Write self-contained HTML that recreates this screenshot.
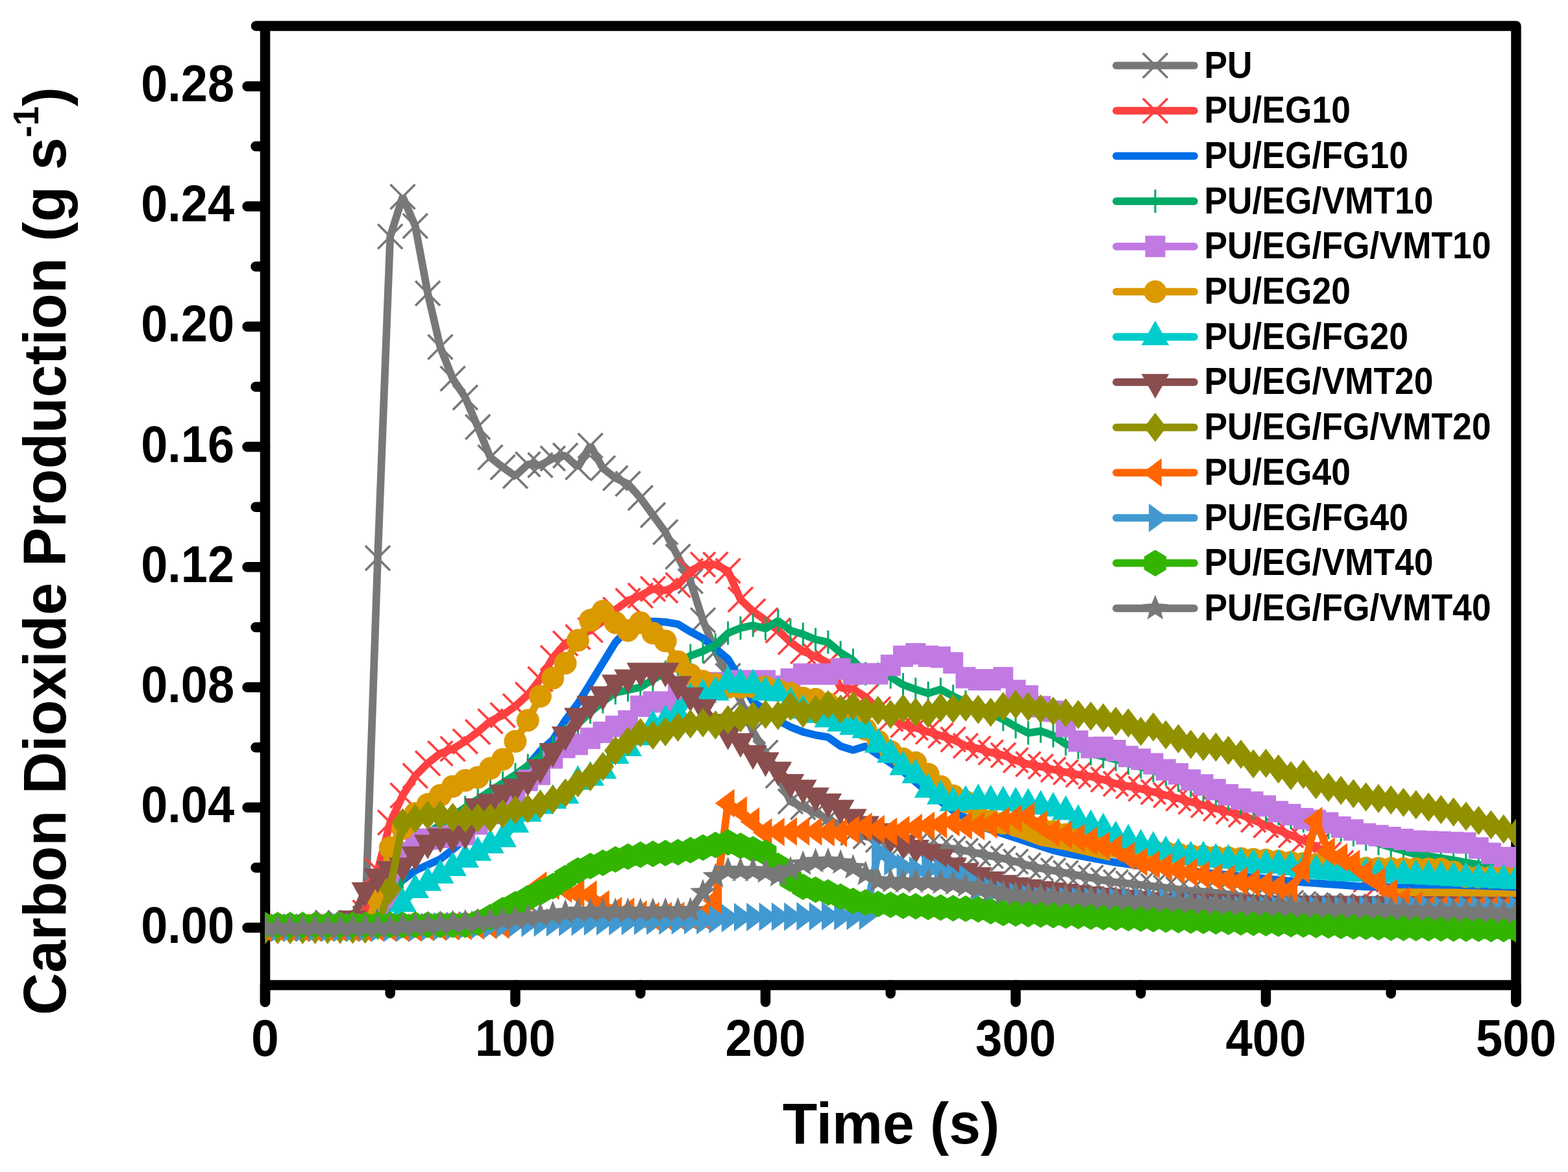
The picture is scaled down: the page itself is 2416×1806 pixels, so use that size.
<!DOCTYPE html><html><head><meta charset="utf-8"><style>html,body{margin:0;padding:0;background:#fff;}svg{display:block}text{font-family:"Liberation Sans",Arial,sans-serif;font-weight:bold;fill:#000}</style></head><body>
<svg xmlns="http://www.w3.org/2000/svg" width="2416" height="1806" viewBox="0 0 2416 1806">
<rect width="100%" height="100%" fill="#fff"/>
<path d="M394.5 40H2336V1544M408.5 40V1544M408.5 1518H2336" fill="none" stroke="#000" stroke-width="15.5" stroke-linecap="round" stroke-linejoin="round"/>
<path d="M381 1429.5H408.5 M394 1336.9H408.5 M381 1244.3H408.5 M394 1151.7H408.5 M381 1059.0H408.5 M394 966.4H408.5 M381 873.8H408.5 M394 781.2H408.5 M381 688.6H408.5 M394 596.0H408.5 M381 503.3H408.5 M394 410.7H408.5 M381 318.1H408.5 M394 225.5H408.5 M381 132.9H408.5 M408.5 1518V1544 M601.2 1518V1531 M794.0 1518V1544 M986.8 1518V1531 M1179.5 1518V1544 M1372.2 1518V1531 M1565.0 1518V1544 M1757.8 1518V1531 M1950.5 1518V1544 M2143.2 1518V1531 M2336.0 1518V1544" fill="none" stroke="#000" stroke-width="15.5" stroke-linecap="round"/>
<text transform="translate(361,1452.5) scale(0.931,1)" font-size="79.4" text-anchor="end">0.00</text>
<text transform="translate(361,1267.3) scale(0.931,1)" font-size="79.4" text-anchor="end">0.04</text>
<text transform="translate(361,1082.0) scale(0.931,1)" font-size="79.4" text-anchor="end">0.08</text>
<text transform="translate(361,896.8) scale(0.931,1)" font-size="79.4" text-anchor="end">0.12</text>
<text transform="translate(361,711.6) scale(0.931,1)" font-size="79.4" text-anchor="end">0.16</text>
<text transform="translate(361,526.3) scale(0.931,1)" font-size="79.4" text-anchor="end">0.20</text>
<text transform="translate(361,341.1) scale(0.931,1)" font-size="79.4" text-anchor="end">0.24</text>
<text transform="translate(361,155.9) scale(0.931,1)" font-size="79.4" text-anchor="end">0.28</text>
<text transform="translate(408.5,1627) scale(0.97,1)" font-size="79.4" text-anchor="middle">0</text>
<text transform="translate(794.0,1627) scale(0.935,1)" font-size="79.4" text-anchor="middle">100</text>
<text transform="translate(1179.5,1627) scale(0.935,1)" font-size="79.4" text-anchor="middle">200</text>
<text transform="translate(1565.0,1627) scale(0.935,1)" font-size="79.4" text-anchor="middle">300</text>
<text transform="translate(1950.5,1627) scale(0.935,1)" font-size="79.4" text-anchor="middle">400</text>
<text transform="translate(2336.0,1627) scale(0.935,1)" font-size="79.4" text-anchor="middle">500</text>
<text transform="translate(1373,1762.2) scale(0.989,1)" font-size="88.6" text-anchor="middle">Time (s)</text>
<text transform="translate(101,849) rotate(-90) scale(0.98,1)" font-size="92" text-anchor="middle">Carbon Dioxide Production (g s<tspan font-size="55" dy="-42">-1</tspan><tspan dy="42">)</tspan></text>
<defs><clipPath id="pc"><rect x="408.5" y="40" width="1927.5" height="1478"/></clipPath></defs>
<g clip-path="url(#pc)">
<path d="M408.5 1429.5L427.8 1429.5L447.1 1429.5L466.3 1429.5L485.6 1429.5L504.9 1422.1L524.1 1422.1L543.4 1422.1L562.7 1415.6L582.0 859.9L601.2 364.4L620.5 303.3L639.8 348.2L659.1 451.9L678.4 534.8L697.6 583.5L716.9 612.6L736.2 658.0L755.5 704.8L774.7 720.1L794.0 733.5L813.3 715.4L832.5 716.8L851.8 706.6L871.1 702.0L890.4 720.1L909.6 686.7L928.9 721.5L948.2 736.7L967.5 745.5L986.8 767.3L1006.0 793.7L1025.3 820.1L1044.6 857.8L1063.8 895.6L1083.1 955.8L1102.4 1003.5L1121.7 1041.4L1141.0 1079.4L1160.2 1127.1L1179.5 1159.8L1198.8 1195.3L1218.0 1235.0L1237.3 1243.7L1256.6 1252.4L1275.9 1262.2L1295.2 1272.7L1314.4 1283.2L1333.7 1288.7L1353.0 1294.3L1372.2 1296.9L1391.5 1299.5L1410.8 1302.2L1430.1 1304.1L1449.3 1306.0L1468.6 1307.9L1487.9 1311.0L1507.2 1315.0L1526.5 1319.0L1545.7 1322.9L1565.0 1327.7L1584.3 1333.6L1603.5 1338.1L1622.8 1341.6L1642.1 1345.2L1661.4 1348.9L1680.7 1352.6L1699.9 1356.4L1719.2 1359.5L1738.5 1361.5L1757.8 1363.5L1777.0 1365.7L1796.3 1368.1L1815.6 1370.6L1834.8 1372.7L1854.1 1374.2L1873.4 1375.8L1892.7 1378.0L1912.0 1381.3L1931.2 1384.6L1950.5 1387.8L1969.8 1389.6L1989.0 1391.3L2008.3 1393.0L2027.6 1394.8L2046.9 1395.5L2066.2 1396.3L2085.4 1397.1L2104.7 1397.9L2124.0 1398.6L2143.2 1399.4L2162.5 1399.6L2181.8 1399.9L2201.1 1400.1L2220.3 1400.3L2239.6 1400.6L2258.9 1400.8L2278.2 1401.0L2297.4 1401.3L2316.7 1401.5L2336.0 1401.7" fill="none" stroke="#787878" stroke-width="11.7" stroke-linejoin="bevel"/>
<path d="M389.5 1410.5L427.5 1448.5M389.5 1448.5L427.5 1410.5M408.8 1410.5L446.8 1448.5M408.8 1448.5L446.8 1410.5M428.1 1410.5L466.1 1448.5M428.1 1448.5L466.1 1410.5M447.3 1410.5L485.3 1448.5M447.3 1448.5L485.3 1410.5M466.6 1410.5L504.6 1448.5M466.6 1448.5L504.6 1410.5M485.9 1403.1L523.9 1441.1M485.9 1441.1L523.9 1403.1M505.1 1403.1L543.1 1441.1M505.1 1441.1L543.1 1403.1M524.4 1403.1L562.4 1441.1M524.4 1441.1L562.4 1403.1M543.7 1396.6L581.7 1434.6M543.7 1434.6L581.7 1396.6M563.0 840.9L601.0 878.9M563.0 878.9L601.0 840.9M582.2 345.4L620.2 383.4M582.2 383.4L620.2 345.4M601.5 284.3L639.5 322.3M601.5 322.3L639.5 284.3M620.8 329.2L658.8 367.2M620.8 367.2L658.8 329.2M640.1 432.9L678.1 470.9M640.1 470.9L678.1 432.9M659.4 515.8L697.4 553.8M659.4 553.8L697.4 515.8M678.6 564.5L716.6 602.5M678.6 602.5L716.6 564.5M697.9 593.6L735.9 631.6M697.9 631.6L735.9 593.6M717.2 639.0L755.2 677.0M717.2 677.0L755.2 639.0M736.5 685.8L774.5 723.8M736.5 723.8L774.5 685.8M755.7 701.1L793.7 739.1M755.7 739.1L793.7 701.1M775.0 714.5L813.0 752.5M775.0 752.5L813.0 714.5M794.3 696.4L832.3 734.4M794.3 734.4L832.3 696.4M813.5 697.8L851.5 735.8M813.5 735.8L851.5 697.8M832.8 687.6L870.8 725.6M832.8 725.6L870.8 687.6M852.1 683.0L890.1 721.0M852.1 721.0L890.1 683.0M871.4 701.1L909.4 739.1M871.4 739.1L909.4 701.1M890.6 667.7L928.6 705.7M890.6 705.7L928.6 667.7M909.9 702.5L947.9 740.5M909.9 740.5L947.9 702.5M929.2 717.7L967.2 755.7M929.2 755.7L967.2 717.7M948.5 726.5L986.5 764.5M948.5 764.5L986.5 726.5M967.8 748.3L1005.8 786.3M967.8 786.3L1005.8 748.3M987.0 774.7L1025.0 812.7M987.0 812.7L1025.0 774.7M1006.3 801.1L1044.3 839.1M1006.3 839.1L1044.3 801.1M1025.6 838.8L1063.6 876.8M1025.6 876.8L1063.6 838.8M1044.8 876.6L1082.8 914.6M1044.8 914.6L1082.8 876.6M1064.1 936.8L1102.1 974.8M1064.1 974.8L1102.1 936.8M1083.4 984.5L1121.4 1022.5M1083.4 1022.5L1121.4 984.5M1102.7 1022.4L1140.7 1060.4M1102.7 1060.4L1140.7 1022.4M1122.0 1060.4L1160.0 1098.4M1122.0 1098.4L1160.0 1060.4M1141.2 1108.1L1179.2 1146.1M1141.2 1146.1L1179.2 1108.1M1160.5 1140.8L1198.5 1178.8M1160.5 1178.8L1198.5 1140.8M1179.8 1176.3L1217.8 1214.3M1179.8 1214.3L1217.8 1176.3M1199.0 1216.0L1237.0 1254.0M1199.0 1254.0L1237.0 1216.0M1218.3 1224.7L1256.3 1262.7M1218.3 1262.7L1256.3 1224.7M1237.6 1233.4L1275.6 1271.4M1237.6 1271.4L1275.6 1233.4M1256.9 1243.2L1294.9 1281.2M1256.9 1281.2L1294.9 1243.2M1276.2 1253.7L1314.2 1291.7M1276.2 1291.7L1314.2 1253.7M1295.4 1264.2L1333.4 1302.2M1295.4 1302.2L1333.4 1264.2M1314.7 1269.7L1352.7 1307.7M1314.7 1307.7L1352.7 1269.7M1334.0 1275.3L1372.0 1313.3M1334.0 1313.3L1372.0 1275.3M1353.2 1277.9L1391.2 1315.9M1353.2 1315.9L1391.2 1277.9M1372.5 1280.5L1410.5 1318.5M1372.5 1318.5L1410.5 1280.5M1391.8 1283.2L1429.8 1321.2M1391.8 1321.2L1429.8 1283.2M1411.1 1285.1L1449.1 1323.1M1411.1 1323.1L1449.1 1285.1M1430.3 1287.0L1468.3 1325.0M1430.3 1325.0L1468.3 1287.0M1449.6 1288.9L1487.6 1326.9M1449.6 1326.9L1487.6 1288.9M1468.9 1292.0L1506.9 1330.0M1468.9 1330.0L1506.9 1292.0M1488.2 1296.0L1526.2 1334.0M1488.2 1334.0L1526.2 1296.0M1507.5 1300.0L1545.5 1338.0M1507.5 1338.0L1545.5 1300.0M1526.7 1303.9L1564.7 1341.9M1526.7 1341.9L1564.7 1303.9M1546.0 1308.7L1584.0 1346.7M1546.0 1346.7L1584.0 1308.7M1565.3 1314.6L1603.3 1352.6M1565.3 1352.6L1603.3 1314.6M1584.5 1319.1L1622.5 1357.1M1584.5 1357.1L1622.5 1319.1M1603.8 1322.6L1641.8 1360.6M1603.8 1360.6L1641.8 1322.6M1623.1 1326.2L1661.1 1364.2M1623.1 1364.2L1661.1 1326.2M1642.4 1329.9L1680.4 1367.9M1642.4 1367.9L1680.4 1329.9M1661.7 1333.6L1699.7 1371.6M1661.7 1371.6L1699.7 1333.6M1680.9 1337.4L1718.9 1375.4M1680.9 1375.4L1718.9 1337.4M1700.2 1340.5L1738.2 1378.5M1700.2 1378.5L1738.2 1340.5M1719.5 1342.5L1757.5 1380.5M1719.5 1380.5L1757.5 1342.5M1738.8 1344.5L1776.8 1382.5M1738.8 1382.5L1776.8 1344.5M1758.0 1346.7L1796.0 1384.7M1758.0 1384.7L1796.0 1346.7M1777.3 1349.1L1815.3 1387.1M1777.3 1387.1L1815.3 1349.1M1796.6 1351.6L1834.6 1389.6M1796.6 1389.6L1834.6 1351.6M1815.8 1353.7L1853.8 1391.7M1815.8 1391.7L1853.8 1353.7M1835.1 1355.2L1873.1 1393.2M1835.1 1393.2L1873.1 1355.2M1854.4 1356.8L1892.4 1394.8M1854.4 1394.8L1892.4 1356.8M1873.7 1359.0L1911.7 1397.0M1873.7 1397.0L1911.7 1359.0M1893.0 1362.3L1931.0 1400.3M1893.0 1400.3L1931.0 1362.3M1912.2 1365.6L1950.2 1403.6M1912.2 1403.6L1950.2 1365.6M1931.5 1368.8L1969.5 1406.8M1931.5 1406.8L1969.5 1368.8M1950.8 1370.6L1988.8 1408.6M1950.8 1408.6L1988.8 1370.6M1970.0 1372.3L2008.0 1410.3M1970.0 1410.3L2008.0 1372.3M1989.3 1374.0L2027.3 1412.0M1989.3 1412.0L2027.3 1374.0M2008.6 1375.8L2046.6 1413.8M2008.6 1413.8L2046.6 1375.8M2027.9 1376.5L2065.9 1414.5M2027.9 1414.5L2065.9 1376.5M2047.2 1377.3L2085.2 1415.3M2047.2 1415.3L2085.2 1377.3M2066.4 1378.1L2104.4 1416.1M2066.4 1416.1L2104.4 1378.1M2085.7 1378.9L2123.7 1416.9M2085.7 1416.9L2123.7 1378.9M2105.0 1379.6L2143.0 1417.6M2105.0 1417.6L2143.0 1379.6M2124.2 1380.4L2162.2 1418.4M2124.2 1418.4L2162.2 1380.4M2143.5 1380.6L2181.5 1418.6M2143.5 1418.6L2181.5 1380.6M2162.8 1380.9L2200.8 1418.9M2162.8 1418.9L2200.8 1380.9M2182.1 1381.1L2220.1 1419.1M2182.1 1419.1L2220.1 1381.1M2201.3 1381.3L2239.3 1419.3M2201.3 1419.3L2239.3 1381.3M2220.6 1381.6L2258.6 1419.6M2220.6 1419.6L2258.6 1381.6M2239.9 1381.8L2277.9 1419.8M2239.9 1419.8L2277.9 1381.8M2259.2 1382.0L2297.2 1420.0M2259.2 1420.0L2297.2 1382.0M2278.4 1382.3L2316.4 1420.3M2278.4 1420.3L2316.4 1382.3M2297.7 1382.5L2335.7 1420.5M2297.7 1420.5L2335.7 1382.5M2317.0 1382.7L2355.0 1420.7M2317.0 1420.7L2355.0 1382.7" fill="none" stroke="#787878" stroke-width="3.6"/>
<path d="M408.5 1429.5L427.8 1429.5L447.1 1429.5L466.3 1429.5L485.6 1429.5L504.9 1429.5L524.1 1429.5L543.4 1429.5L562.7 1406.3L582.0 1341.5L601.2 1267.4L620.5 1225.7L639.8 1195.6L659.1 1176.2L678.4 1160.9L697.6 1154.0L716.9 1142.4L736.2 1128.0L755.5 1111.4L774.7 1102.1L794.0 1088.2L813.3 1070.6L832.5 1046.5L851.8 1013.7L871.1 991.4L890.4 981.7L909.6 971.1L928.9 957.2L948.2 939.6L967.5 925.7L986.8 917.8L1006.0 907.6L1025.3 909.9L1044.6 901.6L1063.8 879.8L1083.1 870.1L1102.4 870.1L1121.7 879.8L1141.0 923.8L1160.2 941.9L1179.5 955.8L1198.8 971.5L1218.0 989.6L1237.3 1003.5L1256.6 1011.3L1275.9 1021.5L1295.2 1060.0L1314.4 1061.8L1333.7 1073.9L1353.0 1092.9L1372.2 1107.9L1391.5 1117.3L1410.8 1121.6L1430.1 1127.6L1449.3 1133.6L1468.6 1139.6L1487.9 1149.3L1507.2 1153.5L1526.5 1159.5L1545.7 1163.7L1565.0 1171.6L1584.3 1177.6L1603.5 1181.3L1622.8 1185.9L1642.1 1190.0L1661.4 1193.8L1680.7 1196.6L1699.9 1201.3L1719.2 1207.7L1738.5 1211.6L1757.8 1215.6L1777.0 1220.4L1796.3 1225.3L1815.6 1230.4L1834.8 1235.5L1854.1 1240.7L1873.4 1245.9L1892.7 1250.7L1912.0 1255.4L1931.2 1263.3L1950.5 1271.8L1969.8 1279.4L1989.0 1287.1L2008.3 1295.0L2027.6 1304.8L2046.9 1317.0L2066.2 1329.8L2085.4 1342.6L2104.7 1355.4L2124.0 1362.2L2143.2 1369.0L2162.5 1375.8L2181.8 1378.7L2201.1 1378.9L2220.3 1379.1L2239.6 1379.3L2258.9 1379.6L2278.2 1379.8L2297.4 1380.0L2316.7 1380.2L2336.0 1380.4" fill="none" stroke="#ff4040" stroke-width="11.7" stroke-linejoin="bevel"/>
<path d="M389.5 1410.5L427.5 1448.5M389.5 1448.5L427.5 1410.5M408.8 1410.5L446.8 1448.5M408.8 1448.5L446.8 1410.5M428.1 1410.5L466.1 1448.5M428.1 1448.5L466.1 1410.5M447.3 1410.5L485.3 1448.5M447.3 1448.5L485.3 1410.5M466.6 1410.5L504.6 1448.5M466.6 1448.5L504.6 1410.5M485.9 1410.5L523.9 1448.5M485.9 1448.5L523.9 1410.5M505.1 1410.5L543.1 1448.5M505.1 1448.5L543.1 1410.5M524.4 1410.5L562.4 1448.5M524.4 1448.5L562.4 1410.5M543.7 1387.3L581.7 1425.3M543.7 1425.3L581.7 1387.3M563.0 1322.5L601.0 1360.5M563.0 1360.5L601.0 1322.5M582.2 1248.4L620.2 1286.4M582.2 1286.4L620.2 1248.4M601.5 1206.7L639.5 1244.7M601.5 1244.7L639.5 1206.7M620.8 1176.6L658.8 1214.6M620.8 1214.6L658.8 1176.6M640.1 1157.2L678.1 1195.2M640.1 1195.2L678.1 1157.2M659.4 1141.9L697.4 1179.9M659.4 1179.9L697.4 1141.9M678.6 1135.0L716.6 1173.0M678.6 1173.0L716.6 1135.0M697.9 1123.4L735.9 1161.4M697.9 1161.4L735.9 1123.4M717.2 1109.0L755.2 1147.0M717.2 1147.0L755.2 1109.0M736.5 1092.4L774.5 1130.4M736.5 1130.4L774.5 1092.4M755.7 1083.1L793.7 1121.1M755.7 1121.1L793.7 1083.1M775.0 1069.2L813.0 1107.2M775.0 1107.2L813.0 1069.2M794.3 1051.6L832.3 1089.6M794.3 1089.6L832.3 1051.6M813.5 1027.5L851.5 1065.5M813.5 1065.5L851.5 1027.5M832.8 994.7L870.8 1032.7M832.8 1032.7L870.8 994.7M852.1 972.4L890.1 1010.4M852.1 1010.4L890.1 972.4M871.4 962.7L909.4 1000.7M871.4 1000.7L909.4 962.7M890.6 952.1L928.6 990.1M890.6 990.1L928.6 952.1M909.9 938.2L947.9 976.2M909.9 976.2L947.9 938.2M929.2 920.6L967.2 958.6M929.2 958.6L967.2 920.6M948.5 906.7L986.5 944.7M948.5 944.7L986.5 906.7M967.8 898.8L1005.8 936.8M967.8 936.8L1005.8 898.8M987.0 888.6L1025.0 926.6M987.0 926.6L1025.0 888.6M1006.3 890.9L1044.3 928.9M1006.3 928.9L1044.3 890.9M1025.6 882.6L1063.6 920.6M1025.6 920.6L1063.6 882.6M1044.8 860.8L1082.8 898.8M1044.8 898.8L1082.8 860.8M1064.1 851.1L1102.1 889.1M1064.1 889.1L1102.1 851.1M1083.4 851.1L1121.4 889.1M1083.4 889.1L1121.4 851.1M1102.7 860.8L1140.7 898.8M1102.7 898.8L1140.7 860.8M1122.0 904.8L1160.0 942.8M1122.0 942.8L1160.0 904.8M1141.2 922.9L1179.2 960.9M1141.2 960.9L1179.2 922.9M1160.5 936.8L1198.5 974.8M1160.5 974.8L1198.5 936.8M1179.8 952.5L1217.8 990.5M1179.8 990.5L1217.8 952.5M1199.0 970.6L1237.0 1008.6M1199.0 1008.6L1237.0 970.6M1218.3 984.5L1256.3 1022.5M1218.3 1022.5L1256.3 984.5M1237.6 992.3L1275.6 1030.3M1237.6 1030.3L1275.6 992.3M1256.9 1002.5L1294.9 1040.5M1256.9 1040.5L1294.9 1002.5M1276.2 1041.0L1314.2 1079.0M1276.2 1079.0L1314.2 1041.0M1295.4 1042.8L1333.4 1080.8M1295.4 1080.8L1333.4 1042.8M1314.7 1054.9L1352.7 1092.9M1314.7 1092.9L1352.7 1054.9M1334.0 1073.9L1372.0 1111.9M1334.0 1111.9L1372.0 1073.9M1353.2 1088.9L1391.2 1126.9M1353.2 1126.9L1391.2 1088.9M1372.5 1098.3L1410.5 1136.3M1372.5 1136.3L1410.5 1098.3M1391.8 1102.6L1429.8 1140.6M1391.8 1140.6L1429.8 1102.6M1411.1 1108.6L1449.1 1146.6M1411.1 1146.6L1449.1 1108.6M1430.3 1114.6L1468.3 1152.6M1430.3 1152.6L1468.3 1114.6M1449.6 1120.6L1487.6 1158.6M1449.6 1158.6L1487.6 1120.6M1468.9 1130.3L1506.9 1168.3M1468.9 1168.3L1506.9 1130.3M1488.2 1134.5L1526.2 1172.5M1488.2 1172.5L1526.2 1134.5M1507.5 1140.5L1545.5 1178.5M1507.5 1178.5L1545.5 1140.5M1526.7 1144.7L1564.7 1182.7M1526.7 1182.7L1564.7 1144.7M1546.0 1152.6L1584.0 1190.6M1546.0 1190.6L1584.0 1152.6M1565.3 1158.6L1603.3 1196.6M1565.3 1196.6L1603.3 1158.6M1584.5 1162.3L1622.5 1200.3M1584.5 1200.3L1622.5 1162.3M1603.8 1166.9L1641.8 1204.9M1603.8 1204.9L1641.8 1166.9M1623.1 1171.0L1661.1 1209.0M1623.1 1209.0L1661.1 1171.0M1642.4 1174.8L1680.4 1212.8M1642.4 1212.8L1680.4 1174.8M1661.7 1177.6L1699.7 1215.6M1661.7 1215.6L1699.7 1177.6M1680.9 1182.3L1718.9 1220.3M1680.9 1220.3L1718.9 1182.3M1700.2 1188.7L1738.2 1226.7M1700.2 1226.7L1738.2 1188.7M1719.5 1192.6L1757.5 1230.6M1719.5 1230.6L1757.5 1192.6M1738.8 1196.6L1776.8 1234.6M1738.8 1234.6L1776.8 1196.6M1758.0 1201.4L1796.0 1239.4M1758.0 1239.4L1796.0 1201.4M1777.3 1206.3L1815.3 1244.3M1777.3 1244.3L1815.3 1206.3M1796.6 1211.4L1834.6 1249.4M1796.6 1249.4L1834.6 1211.4M1815.8 1216.5L1853.8 1254.5M1815.8 1254.5L1853.8 1216.5M1835.1 1221.7L1873.1 1259.7M1835.1 1259.7L1873.1 1221.7M1854.4 1226.9L1892.4 1264.9M1854.4 1264.9L1892.4 1226.9M1873.7 1231.7L1911.7 1269.7M1873.7 1269.7L1911.7 1231.7M1893.0 1236.4L1931.0 1274.4M1893.0 1274.4L1931.0 1236.4M1912.2 1244.3L1950.2 1282.3M1912.2 1282.3L1950.2 1244.3M1931.5 1252.8L1969.5 1290.8M1931.5 1290.8L1969.5 1252.8M1950.8 1260.4L1988.8 1298.4M1950.8 1298.4L1988.8 1260.4M1970.0 1268.1L2008.0 1306.1M1970.0 1306.1L2008.0 1268.1M1989.3 1276.0L2027.3 1314.0M1989.3 1314.0L2027.3 1276.0M2008.6 1285.8L2046.6 1323.8M2008.6 1323.8L2046.6 1285.8M2027.9 1298.0L2065.9 1336.0M2027.9 1336.0L2065.9 1298.0M2047.2 1310.8L2085.2 1348.8M2047.2 1348.8L2085.2 1310.8M2066.4 1323.6L2104.4 1361.6M2066.4 1361.6L2104.4 1323.6M2085.7 1336.4L2123.7 1374.4M2085.7 1374.4L2123.7 1336.4M2105.0 1343.2L2143.0 1381.2M2105.0 1381.2L2143.0 1343.2M2124.2 1350.0L2162.2 1388.0M2124.2 1388.0L2162.2 1350.0M2143.5 1356.8L2181.5 1394.8M2143.5 1394.8L2181.5 1356.8M2162.8 1359.7L2200.8 1397.7M2162.8 1397.7L2200.8 1359.7M2182.1 1359.9L2220.1 1397.9M2182.1 1397.9L2220.1 1359.9M2201.3 1360.1L2239.3 1398.1M2201.3 1398.1L2239.3 1360.1M2220.6 1360.3L2258.6 1398.3M2220.6 1398.3L2258.6 1360.3M2239.9 1360.6L2277.9 1398.6M2239.9 1398.6L2277.9 1360.6M2259.2 1360.8L2297.2 1398.8M2259.2 1398.8L2297.2 1360.8M2278.4 1361.0L2316.4 1399.0M2278.4 1399.0L2316.4 1361.0M2297.7 1361.2L2335.7 1399.2M2297.7 1399.2L2335.7 1361.2M2317.0 1361.4L2355.0 1399.4M2317.0 1399.4L2355.0 1361.4" fill="none" stroke="#ff4040" stroke-width="3.6"/>
<path d="M408.5 1429.5L427.8 1429.5L447.1 1429.5L466.3 1429.5L485.6 1429.5L504.9 1429.5L524.1 1429.5L543.4 1429.5L562.7 1429.5L582.0 1390.6L601.2 1373.5L620.5 1356.3L639.8 1341.5L659.1 1332.7L678.4 1323.9L697.6 1309.1L716.9 1292.9L736.2 1270.5L755.5 1248.1L774.7 1225.7L794.0 1202.9L813.3 1180.1L832.5 1157.2L851.8 1140.1L871.1 1110.0L890.4 1084.0L909.6 1053.0L928.9 1021.5L948.2 990.0L967.5 969.0L986.8 957.9L1006.0 957.6L1025.3 958.6L1044.6 961.8L1063.8 973.4L1083.1 983.6L1102.4 999.3L1121.7 1015.5L1141.0 1047.7L1160.2 1081.3L1179.5 1093.8L1198.8 1110.0L1218.0 1120.2L1237.3 1127.8L1256.6 1132.7L1275.9 1135.9L1295.2 1149.8L1314.4 1155.8L1333.7 1149.8L1353.0 1162.8L1372.2 1175.7L1391.5 1188.7L1410.8 1204.9L1430.1 1221.1L1449.3 1235.0L1468.6 1248.9L1487.9 1260.5L1507.2 1272.1L1526.5 1278.5L1545.7 1284.9L1565.0 1291.3L1584.3 1297.6L1603.5 1304.0L1622.8 1310.3L1642.1 1314.8L1661.4 1318.3L1680.7 1321.9L1699.9 1325.5L1719.2 1329.0L1738.5 1331.7L1757.8 1334.4L1777.0 1336.7L1796.3 1338.6L1815.6 1340.5L1834.8 1342.4L1854.1 1344.3L1873.4 1346.2L1892.7 1348.1L1912.0 1350.1L1931.2 1352.0L1950.5 1353.9L1969.8 1355.8L1989.0 1357.7L2008.3 1359.6L2027.6 1361.0L2046.9 1362.4L2066.2 1363.7L2085.4 1365.1L2104.7 1366.5L2124.0 1366.8L2143.2 1367.1L2162.5 1367.4L2181.8 1367.6L2201.1 1367.9L2220.3 1369.0L2239.6 1370.2L2258.9 1371.3L2278.2 1372.4L2297.4 1373.5L2316.7 1374.7L2336.0 1375.8" fill="none" stroke="#006ee6" stroke-width="11.7" stroke-linejoin="bevel"/>
<path d="M408.5 1429.5L427.8 1429.5L447.1 1429.5L466.3 1429.5L485.6 1429.5L504.9 1429.5L524.1 1429.5L543.4 1429.5L562.7 1429.5L582.0 1429.5L601.2 1397.1L620.5 1350.8L639.8 1297.5L659.1 1284.2L678.4 1270.9L697.6 1257.6L716.9 1244.3L736.2 1231.7L755.5 1219.0L774.7 1206.4L794.0 1193.8L813.3 1179.7L832.5 1165.7L851.8 1151.7L871.1 1133.6L890.4 1115.5L909.6 1097.5L928.9 1081.3L948.2 1067.4L967.5 1063.2L986.8 1059.0L1006.0 1047.5L1025.3 1035.9L1044.6 1023.2L1063.8 1010.4L1083.1 1003.5L1102.4 993.7L1121.7 975.7L1141.0 967.8L1160.2 963.6L1179.5 968.7L1198.8 956.7L1218.0 971.5L1237.3 977.5L1256.6 985.4L1275.9 989.6L1295.2 1005.8L1314.4 1017.4L1333.7 1038.2L1353.0 1039.1L1372.2 1043.3L1391.5 1055.3L1410.8 1062.3L1430.1 1068.3L1449.3 1062.3L1468.6 1072.9L1487.9 1081.8L1507.2 1090.8L1526.5 1099.7L1545.7 1108.6L1565.0 1119.7L1584.3 1129.4L1603.5 1126.6L1622.8 1133.6L1642.1 1146.6L1661.4 1151.7L1680.7 1161.4L1699.9 1165.8L1719.2 1170.2L1738.5 1176.0L1757.8 1181.8L1777.0 1187.5L1796.3 1193.3L1815.6 1201.9L1834.8 1210.5L1854.1 1217.4L1873.4 1224.4L1892.7 1231.3L1912.0 1238.3L1931.2 1245.2L1950.5 1250.3L1969.8 1253.5L1989.0 1259.3L2008.3 1265.1L2027.6 1269.3L2046.9 1275.3L2066.2 1279.5L2085.4 1286.3L2104.7 1293.0L2124.0 1299.8L2143.2 1305.4L2162.5 1311.0L2181.8 1316.5L2201.1 1319.4L2220.3 1322.3L2239.6 1325.5L2258.9 1328.9L2278.2 1332.3L2297.4 1335.8L2316.7 1339.4L2336.0 1342.9" fill="none" stroke="#00aa66" stroke-width="11.7" stroke-linejoin="bevel"/>
<path d="M408.5 1411.5V1447.5M427.8 1411.5V1447.5M447.1 1411.5V1447.5M466.3 1411.5V1447.5M485.6 1411.5V1447.5M504.9 1411.5V1447.5M524.1 1411.5V1447.5M543.4 1411.5V1447.5M562.7 1411.5V1447.5M582.0 1411.5V1447.5M601.2 1379.1V1415.1M620.5 1332.8V1368.8M639.8 1279.5V1315.5M659.1 1266.2V1302.2M678.4 1252.9V1288.9M697.6 1239.6V1275.6M716.9 1226.3V1262.3M736.2 1213.7V1249.7M755.5 1201.0V1237.0M774.7 1188.4V1224.4M794.0 1175.8V1211.8M813.3 1161.7V1197.7M832.5 1147.7V1183.7M851.8 1133.7V1169.7M871.1 1115.6V1151.6M890.4 1097.5V1133.5M909.6 1079.5V1115.5M928.9 1063.3V1099.3M948.2 1049.4V1085.4M967.5 1045.2V1081.2M986.8 1041.0V1077.0M1006.0 1029.5V1065.5M1025.3 1017.9V1053.9M1044.6 1005.2V1041.2M1063.8 992.4V1028.4M1083.1 985.5V1021.5M1102.4 975.7V1011.7M1121.7 957.7V993.7M1141.0 949.8V985.8M1160.2 945.6V981.6M1179.5 950.7V986.7M1198.8 938.7V974.7M1218.0 953.5V989.5M1237.3 959.5V995.5M1256.6 967.4V1003.4M1275.9 971.6V1007.6M1295.2 987.8V1023.8M1314.4 999.4V1035.4M1333.7 1020.2V1056.2M1353.0 1021.1V1057.1M1372.2 1025.3V1061.3M1391.5 1037.3V1073.3M1410.8 1044.3V1080.3M1430.1 1050.3V1086.3M1449.3 1044.3V1080.3M1468.6 1054.9V1090.9M1487.9 1063.8V1099.8M1507.2 1072.8V1108.8M1526.5 1081.7V1117.7M1545.7 1090.6V1126.6M1565.0 1101.7V1137.7M1584.3 1111.4V1147.4M1603.5 1108.6V1144.6M1622.8 1115.6V1151.6M1642.1 1128.6V1164.6M1661.4 1133.7V1169.7M1680.7 1143.4V1179.4M1699.9 1147.8V1183.8M1719.2 1152.2V1188.2M1738.5 1158.0V1194.0M1757.8 1163.8V1199.8M1777.0 1169.5V1205.5M1796.3 1175.3V1211.3M1815.6 1183.9V1219.9M1834.8 1192.5V1228.5M1854.1 1199.4V1235.4M1873.4 1206.4V1242.4M1892.7 1213.3V1249.3M1912.0 1220.3V1256.3M1931.2 1227.2V1263.2M1950.5 1232.3V1268.3M1969.8 1235.5V1271.5M1989.0 1241.3V1277.3M2008.3 1247.1V1283.1M2027.6 1251.3V1287.3M2046.9 1257.3V1293.3M2066.2 1261.5V1297.5M2085.4 1268.3V1304.3M2104.7 1275.0V1311.0M2124.0 1281.8V1317.8M2143.2 1287.4V1323.4M2162.5 1293.0V1329.0M2181.8 1298.5V1334.5M2201.1 1301.4V1337.4M2220.3 1304.3V1340.3M2239.6 1307.5V1343.5M2258.9 1310.9V1346.9M2278.2 1314.3V1350.3M2297.4 1317.8V1353.8M2316.7 1321.4V1357.4M2336.0 1324.9V1360.9" fill="none" stroke="#00aa66" stroke-width="3"/>
<path d="M408.5 1429.5L427.8 1429.5L447.1 1429.5L466.3 1429.5L485.6 1429.5L504.9 1429.5L524.1 1429.5L543.4 1429.5L562.7 1429.5L582.0 1429.5L601.2 1383.2L620.5 1313.7L639.8 1295.2L659.1 1292.9L678.4 1290.6L697.6 1288.3L716.9 1285.9L736.2 1269.7L755.5 1253.5L774.7 1237.3L794.0 1221.1L813.3 1202.6L832.5 1193.3L851.8 1167.9L871.1 1151.7L890.4 1147.0L909.6 1137.8L928.9 1128.5L948.2 1119.2L967.5 1110.9L986.8 1088.2L1006.0 1081.7L1025.3 1081.7L1044.6 1068.3L1063.8 1059.0L1083.1 1052.1L1102.4 1052.1L1121.7 1054.4L1141.0 1048.9L1160.2 1048.9L1179.5 1048.9L1198.8 1057.2L1218.0 1046.5L1237.3 1038.7L1256.6 1038.7L1275.9 1038.7L1295.2 1030.8L1314.4 1038.7L1333.7 1038.2L1353.0 1038.2L1372.2 1025.2L1391.5 1011.3L1410.8 1007.6L1430.1 1011.3L1449.3 1012.7L1468.6 1021.5L1487.9 1044.2L1507.2 1047.5L1526.5 1047.5L1545.7 1044.2L1565.0 1064.1L1584.3 1072.5L1603.5 1089.1L1622.8 1096.1L1642.1 1119.2L1661.4 1141.9L1680.7 1152.1L1699.9 1151.5L1719.2 1156.6L1738.5 1165.8L1757.8 1169.9L1777.0 1177.0L1796.3 1186.2L1815.6 1192.4L1834.8 1202.1L1854.1 1209.4L1873.4 1216.7L1892.7 1224.7L1912.0 1231.2L1931.2 1236.0L1950.5 1242.0L1969.8 1250.7L1989.0 1255.2L2008.3 1261.4L2027.6 1264.2L2046.9 1268.1L2066.2 1274.4L2085.4 1279.1L2104.7 1285.0L2124.0 1287.8L2143.2 1290.6L2162.5 1293.4L2181.8 1296.1L2201.1 1296.8L2220.3 1297.5L2239.6 1298.2L2258.9 1298.9L2278.2 1306.8L2297.4 1315.1L2316.7 1321.6L2336.0 1321.6" fill="none" stroke="#c17ae2" stroke-width="11.7" stroke-linejoin="bevel"/>
<path d="M393.0 1413.0h31v33h-31zM412.3 1413.0h31v33h-31zM431.6 1413.0h31v33h-31zM450.8 1413.0h31v33h-31zM470.1 1413.0h31v33h-31zM489.4 1413.0h31v33h-31zM508.6 1413.0h31v33h-31zM527.9 1413.0h31v33h-31zM547.2 1413.0h31v33h-31zM566.5 1413.0h31v33h-31zM585.8 1366.7h31v33h-31zM605.0 1297.2h31v33h-31zM624.3 1278.7h31v33h-31zM643.6 1276.4h31v33h-31zM662.9 1274.1h31v33h-31zM682.1 1271.8h31v33h-31zM701.4 1269.4h31v33h-31zM720.7 1253.2h31v33h-31zM740.0 1237.0h31v33h-31zM759.2 1220.8h31v33h-31zM778.5 1204.6h31v33h-31zM797.8 1186.1h31v33h-31zM817.0 1176.8h31v33h-31zM836.3 1151.4h31v33h-31zM855.6 1135.2h31v33h-31zM874.9 1130.5h31v33h-31zM894.1 1121.3h31v33h-31zM913.4 1112.0h31v33h-31zM932.7 1102.7h31v33h-31zM952.0 1094.4h31v33h-31zM971.2 1071.7h31v33h-31zM990.5 1065.2h31v33h-31zM1009.8 1065.2h31v33h-31zM1029.1 1051.8h31v33h-31zM1048.3 1042.5h31v33h-31zM1067.6 1035.6h31v33h-31zM1086.9 1035.6h31v33h-31zM1106.2 1037.9h31v33h-31zM1125.5 1032.4h31v33h-31zM1144.7 1032.4h31v33h-31zM1164.0 1032.4h31v33h-31zM1183.3 1040.7h31v33h-31zM1202.5 1030.0h31v33h-31zM1221.8 1022.2h31v33h-31zM1241.1 1022.2h31v33h-31zM1260.4 1022.2h31v33h-31zM1279.7 1014.3h31v33h-31zM1298.9 1022.2h31v33h-31zM1318.2 1021.7h31v33h-31zM1337.5 1021.7h31v33h-31zM1356.8 1008.7h31v33h-31zM1376.0 994.8h31v33h-31zM1395.3 991.1h31v33h-31zM1414.6 994.8h31v33h-31zM1433.8 996.2h31v33h-31zM1453.1 1005.0h31v33h-31zM1472.4 1027.7h31v33h-31zM1491.7 1031.0h31v33h-31zM1511.0 1031.0h31v33h-31zM1530.2 1027.7h31v33h-31zM1549.5 1047.6h31v33h-31zM1568.8 1056.0h31v33h-31zM1588.0 1072.6h31v33h-31zM1607.3 1079.6h31v33h-31zM1626.6 1102.7h31v33h-31zM1645.9 1125.4h31v33h-31zM1665.2 1135.6h31v33h-31zM1684.4 1135.0h31v33h-31zM1703.7 1140.1h31v33h-31zM1723.0 1149.3h31v33h-31zM1742.2 1153.4h31v33h-31zM1761.5 1160.5h31v33h-31zM1780.8 1169.7h31v33h-31zM1800.1 1175.9h31v33h-31zM1819.3 1185.6h31v33h-31zM1838.6 1192.9h31v33h-31zM1857.9 1200.2h31v33h-31zM1877.2 1208.2h31v33h-31zM1896.5 1214.7h31v33h-31zM1915.7 1219.5h31v33h-31zM1935.0 1225.5h31v33h-31zM1954.3 1234.2h31v33h-31zM1973.5 1238.7h31v33h-31zM1992.8 1244.9h31v33h-31zM2012.1 1247.7h31v33h-31zM2031.4 1251.6h31v33h-31zM2050.7 1257.9h31v33h-31zM2069.9 1262.6h31v33h-31zM2089.2 1268.5h31v33h-31zM2108.5 1271.3h31v33h-31zM2127.8 1274.1h31v33h-31zM2147.0 1276.9h31v33h-31zM2166.3 1279.6h31v33h-31zM2185.6 1280.3h31v33h-31zM2204.8 1281.0h31v33h-31zM2224.1 1281.7h31v33h-31zM2243.4 1282.4h31v33h-31zM2262.7 1290.3h31v33h-31zM2281.9 1298.6h31v33h-31zM2301.2 1305.1h31v33h-31zM2320.5 1305.1h31v33h-31z" fill="#c17ae2"/>
<path d="M408.5 1429.5L427.8 1429.5L447.1 1429.5L466.3 1429.5L485.6 1429.5L504.9 1429.5L524.1 1429.5L543.4 1429.5L562.7 1429.5L582.0 1383.2L601.2 1306.3L620.5 1276.7L639.8 1253.5L659.1 1239.6L678.4 1225.7L697.6 1211.9L716.9 1202.6L736.2 1198.0L755.5 1184.1L774.7 1170.2L794.0 1142.4L813.3 1110.0L832.5 1072.9L851.8 1045.1L871.1 1022.0L890.4 986.8L909.6 955.8L928.9 941.9L948.2 959.5L967.5 971.5L986.8 959.5L1006.0 975.7L1025.3 987.7L1044.6 1019.7L1063.8 1039.6L1083.1 1049.8L1102.4 1054.4L1121.7 1059.0L1141.0 1058.9L1160.2 1058.7L1179.5 1058.6L1198.8 1063.7L1218.0 1068.3L1237.3 1075.7L1256.6 1077.6L1275.9 1084.5L1295.2 1093.8L1314.4 1107.7L1333.7 1123.9L1353.0 1142.4L1372.2 1158.1L1391.5 1169.3L1410.8 1175.3L1430.1 1192.9L1449.3 1211.9L1468.6 1226.2L1487.9 1235.5L1507.2 1258.2L1526.5 1265.1L1545.7 1268.6L1565.0 1272.1L1584.3 1274.4L1603.5 1276.7L1622.8 1281.3L1642.1 1285.9L1661.4 1290.6L1680.7 1295.2L1699.9 1299.8L1719.2 1304.5L1738.5 1306.8L1757.8 1309.1L1777.0 1311.4L1796.3 1313.7L1815.6 1316.0L1834.8 1318.4L1854.1 1319.5L1873.4 1320.7L1892.7 1321.8L1912.0 1323.0L1931.2 1324.2L1950.5 1325.3L1969.8 1327.0L1989.0 1328.8L2008.3 1330.5L2027.6 1332.3L2046.9 1333.6L2066.2 1335.0L2085.4 1336.4L2104.7 1337.8L2124.0 1338.0L2143.2 1338.3L2162.5 1338.5L2181.8 1338.7L2201.1 1339.0L2220.3 1339.2L2239.6 1343.8L2258.9 1350.8L2278.2 1351.4L2297.4 1351.9L2316.7 1352.5L2336.0 1353.1" fill="none" stroke="#db9900" stroke-width="11.7" stroke-linejoin="bevel"/>
<path d="M1549.6 1276.7L1565.0 1283.6L1603.5 1297.5L1642.1 1304.5L1680.7 1313.7L1711.5 1320.7M2143.2 1374.9L2239.6 1375.3L2336.0 1378.6" fill="none" stroke="#db9900" stroke-width="11.7" stroke-linejoin="bevel"/>
<path d="M391.0 1429.5a17.5 17.5 0 1 0 35.0 0a17.5 17.5 0 1 0 -35.0 0zM410.3 1429.5a17.5 17.5 0 1 0 35.0 0a17.5 17.5 0 1 0 -35.0 0zM429.6 1429.5a17.5 17.5 0 1 0 35.0 0a17.5 17.5 0 1 0 -35.0 0zM448.8 1429.5a17.5 17.5 0 1 0 35.0 0a17.5 17.5 0 1 0 -35.0 0zM468.1 1429.5a17.5 17.5 0 1 0 35.0 0a17.5 17.5 0 1 0 -35.0 0zM487.4 1429.5a17.5 17.5 0 1 0 35.0 0a17.5 17.5 0 1 0 -35.0 0zM506.6 1429.5a17.5 17.5 0 1 0 35.0 0a17.5 17.5 0 1 0 -35.0 0zM525.9 1429.5a17.5 17.5 0 1 0 35.0 0a17.5 17.5 0 1 0 -35.0 0zM545.2 1429.5a17.5 17.5 0 1 0 35.0 0a17.5 17.5 0 1 0 -35.0 0zM564.5 1383.2a17.5 17.5 0 1 0 35.0 0a17.5 17.5 0 1 0 -35.0 0zM583.8 1306.3a17.5 17.5 0 1 0 35.0 0a17.5 17.5 0 1 0 -35.0 0zM603.0 1276.7a17.5 17.5 0 1 0 35.0 0a17.5 17.5 0 1 0 -35.0 0zM622.3 1253.5a17.5 17.5 0 1 0 35.0 0a17.5 17.5 0 1 0 -35.0 0zM641.6 1239.6a17.5 17.5 0 1 0 35.0 0a17.5 17.5 0 1 0 -35.0 0zM660.9 1225.7a17.5 17.5 0 1 0 35.0 0a17.5 17.5 0 1 0 -35.0 0zM680.1 1211.9a17.5 17.5 0 1 0 35.0 0a17.5 17.5 0 1 0 -35.0 0zM699.4 1202.6a17.5 17.5 0 1 0 35.0 0a17.5 17.5 0 1 0 -35.0 0zM718.7 1198.0a17.5 17.5 0 1 0 35.0 0a17.5 17.5 0 1 0 -35.0 0zM738.0 1184.1a17.5 17.5 0 1 0 35.0 0a17.5 17.5 0 1 0 -35.0 0zM757.2 1170.2a17.5 17.5 0 1 0 35.0 0a17.5 17.5 0 1 0 -35.0 0zM776.5 1142.4a17.5 17.5 0 1 0 35.0 0a17.5 17.5 0 1 0 -35.0 0zM795.8 1110.0a17.5 17.5 0 1 0 35.0 0a17.5 17.5 0 1 0 -35.0 0zM815.0 1072.9a17.5 17.5 0 1 0 35.0 0a17.5 17.5 0 1 0 -35.0 0zM834.3 1045.1a17.5 17.5 0 1 0 35.0 0a17.5 17.5 0 1 0 -35.0 0zM853.6 1022.0a17.5 17.5 0 1 0 35.0 0a17.5 17.5 0 1 0 -35.0 0zM872.9 986.8a17.5 17.5 0 1 0 35.0 0a17.5 17.5 0 1 0 -35.0 0zM892.1 955.8a17.5 17.5 0 1 0 35.0 0a17.5 17.5 0 1 0 -35.0 0zM911.4 941.9a17.5 17.5 0 1 0 35.0 0a17.5 17.5 0 1 0 -35.0 0zM930.7 959.5a17.5 17.5 0 1 0 35.0 0a17.5 17.5 0 1 0 -35.0 0zM950.0 971.5a17.5 17.5 0 1 0 35.0 0a17.5 17.5 0 1 0 -35.0 0zM969.2 959.5a17.5 17.5 0 1 0 35.0 0a17.5 17.5 0 1 0 -35.0 0zM988.5 975.7a17.5 17.5 0 1 0 35.0 0a17.5 17.5 0 1 0 -35.0 0zM1007.8 987.7a17.5 17.5 0 1 0 35.0 0a17.5 17.5 0 1 0 -35.0 0zM1027.1 1019.7a17.5 17.5 0 1 0 35.0 0a17.5 17.5 0 1 0 -35.0 0zM1046.3 1039.6a17.5 17.5 0 1 0 35.0 0a17.5 17.5 0 1 0 -35.0 0zM1065.6 1049.8a17.5 17.5 0 1 0 35.0 0a17.5 17.5 0 1 0 -35.0 0zM1084.9 1054.4a17.5 17.5 0 1 0 35.0 0a17.5 17.5 0 1 0 -35.0 0zM1104.2 1059.0a17.5 17.5 0 1 0 35.0 0a17.5 17.5 0 1 0 -35.0 0zM1123.5 1058.9a17.5 17.5 0 1 0 35.0 0a17.5 17.5 0 1 0 -35.0 0zM1142.7 1058.7a17.5 17.5 0 1 0 35.0 0a17.5 17.5 0 1 0 -35.0 0zM1162.0 1058.6a17.5 17.5 0 1 0 35.0 0a17.5 17.5 0 1 0 -35.0 0zM1181.3 1063.7a17.5 17.5 0 1 0 35.0 0a17.5 17.5 0 1 0 -35.0 0zM1200.5 1068.3a17.5 17.5 0 1 0 35.0 0a17.5 17.5 0 1 0 -35.0 0zM1219.8 1075.7a17.5 17.5 0 1 0 35.0 0a17.5 17.5 0 1 0 -35.0 0zM1239.1 1077.6a17.5 17.5 0 1 0 35.0 0a17.5 17.5 0 1 0 -35.0 0zM1258.4 1084.5a17.5 17.5 0 1 0 35.0 0a17.5 17.5 0 1 0 -35.0 0zM1277.7 1093.8a17.5 17.5 0 1 0 35.0 0a17.5 17.5 0 1 0 -35.0 0zM1296.9 1107.7a17.5 17.5 0 1 0 35.0 0a17.5 17.5 0 1 0 -35.0 0zM1316.2 1123.9a17.5 17.5 0 1 0 35.0 0a17.5 17.5 0 1 0 -35.0 0zM1335.5 1142.4a17.5 17.5 0 1 0 35.0 0a17.5 17.5 0 1 0 -35.0 0zM1354.8 1158.1a17.5 17.5 0 1 0 35.0 0a17.5 17.5 0 1 0 -35.0 0zM1374.0 1169.3a17.5 17.5 0 1 0 35.0 0a17.5 17.5 0 1 0 -35.0 0zM1393.3 1175.3a17.5 17.5 0 1 0 35.0 0a17.5 17.5 0 1 0 -35.0 0zM1412.6 1192.9a17.5 17.5 0 1 0 35.0 0a17.5 17.5 0 1 0 -35.0 0zM1431.8 1211.9a17.5 17.5 0 1 0 35.0 0a17.5 17.5 0 1 0 -35.0 0zM1451.1 1226.2a17.5 17.5 0 1 0 35.0 0a17.5 17.5 0 1 0 -35.0 0zM1470.4 1235.5a17.5 17.5 0 1 0 35.0 0a17.5 17.5 0 1 0 -35.0 0zM1489.7 1258.2a17.5 17.5 0 1 0 35.0 0a17.5 17.5 0 1 0 -35.0 0zM1509.0 1265.1a17.5 17.5 0 1 0 35.0 0a17.5 17.5 0 1 0 -35.0 0zM1528.2 1268.6a17.5 17.5 0 1 0 35.0 0a17.5 17.5 0 1 0 -35.0 0zM1547.5 1272.1a17.5 17.5 0 1 0 35.0 0a17.5 17.5 0 1 0 -35.0 0zM1566.8 1274.4a17.5 17.5 0 1 0 35.0 0a17.5 17.5 0 1 0 -35.0 0zM1586.0 1276.7a17.5 17.5 0 1 0 35.0 0a17.5 17.5 0 1 0 -35.0 0zM1605.3 1281.3a17.5 17.5 0 1 0 35.0 0a17.5 17.5 0 1 0 -35.0 0zM1624.6 1285.9a17.5 17.5 0 1 0 35.0 0a17.5 17.5 0 1 0 -35.0 0zM1643.9 1290.6a17.5 17.5 0 1 0 35.0 0a17.5 17.5 0 1 0 -35.0 0zM1663.2 1295.2a17.5 17.5 0 1 0 35.0 0a17.5 17.5 0 1 0 -35.0 0zM1682.4 1299.8a17.5 17.5 0 1 0 35.0 0a17.5 17.5 0 1 0 -35.0 0zM1701.7 1304.5a17.5 17.5 0 1 0 35.0 0a17.5 17.5 0 1 0 -35.0 0zM1721.0 1306.8a17.5 17.5 0 1 0 35.0 0a17.5 17.5 0 1 0 -35.0 0zM1740.2 1309.1a17.5 17.5 0 1 0 35.0 0a17.5 17.5 0 1 0 -35.0 0zM1759.5 1311.4a17.5 17.5 0 1 0 35.0 0a17.5 17.5 0 1 0 -35.0 0zM1778.8 1313.7a17.5 17.5 0 1 0 35.0 0a17.5 17.5 0 1 0 -35.0 0zM1798.1 1316.0a17.5 17.5 0 1 0 35.0 0a17.5 17.5 0 1 0 -35.0 0zM1817.3 1318.4a17.5 17.5 0 1 0 35.0 0a17.5 17.5 0 1 0 -35.0 0zM1836.6 1319.5a17.5 17.5 0 1 0 35.0 0a17.5 17.5 0 1 0 -35.0 0zM1855.9 1320.7a17.5 17.5 0 1 0 35.0 0a17.5 17.5 0 1 0 -35.0 0zM1875.2 1321.8a17.5 17.5 0 1 0 35.0 0a17.5 17.5 0 1 0 -35.0 0zM1894.5 1323.0a17.5 17.5 0 1 0 35.0 0a17.5 17.5 0 1 0 -35.0 0zM1913.7 1324.2a17.5 17.5 0 1 0 35.0 0a17.5 17.5 0 1 0 -35.0 0zM1933.0 1325.3a17.5 17.5 0 1 0 35.0 0a17.5 17.5 0 1 0 -35.0 0zM1952.3 1327.0a17.5 17.5 0 1 0 35.0 0a17.5 17.5 0 1 0 -35.0 0zM1971.5 1328.8a17.5 17.5 0 1 0 35.0 0a17.5 17.5 0 1 0 -35.0 0zM1990.8 1330.5a17.5 17.5 0 1 0 35.0 0a17.5 17.5 0 1 0 -35.0 0zM2010.1 1332.3a17.5 17.5 0 1 0 35.0 0a17.5 17.5 0 1 0 -35.0 0zM2029.4 1333.6a17.5 17.5 0 1 0 35.0 0a17.5 17.5 0 1 0 -35.0 0zM2048.7 1335.0a17.5 17.5 0 1 0 35.0 0a17.5 17.5 0 1 0 -35.0 0zM2067.9 1336.4a17.5 17.5 0 1 0 35.0 0a17.5 17.5 0 1 0 -35.0 0zM2087.2 1337.8a17.5 17.5 0 1 0 35.0 0a17.5 17.5 0 1 0 -35.0 0zM2106.5 1338.0a17.5 17.5 0 1 0 35.0 0a17.5 17.5 0 1 0 -35.0 0zM2125.8 1338.3a17.5 17.5 0 1 0 35.0 0a17.5 17.5 0 1 0 -35.0 0zM2145.0 1338.5a17.5 17.5 0 1 0 35.0 0a17.5 17.5 0 1 0 -35.0 0zM2164.3 1338.7a17.5 17.5 0 1 0 35.0 0a17.5 17.5 0 1 0 -35.0 0zM2183.6 1339.0a17.5 17.5 0 1 0 35.0 0a17.5 17.5 0 1 0 -35.0 0zM2202.8 1339.2a17.5 17.5 0 1 0 35.0 0a17.5 17.5 0 1 0 -35.0 0zM2222.1 1343.8a17.5 17.5 0 1 0 35.0 0a17.5 17.5 0 1 0 -35.0 0zM2241.4 1350.8a17.5 17.5 0 1 0 35.0 0a17.5 17.5 0 1 0 -35.0 0zM2260.7 1351.4a17.5 17.5 0 1 0 35.0 0a17.5 17.5 0 1 0 -35.0 0zM2279.9 1351.9a17.5 17.5 0 1 0 35.0 0a17.5 17.5 0 1 0 -35.0 0zM2299.2 1352.5a17.5 17.5 0 1 0 35.0 0a17.5 17.5 0 1 0 -35.0 0zM2318.5 1353.1a17.5 17.5 0 1 0 35.0 0a17.5 17.5 0 1 0 -35.0 0z" fill="#db9900"/>
<path d="M408.5 1429.5L427.8 1429.5L447.1 1429.5L466.3 1429.5L485.6 1429.5L504.9 1429.5L524.1 1429.5L543.4 1429.5L562.7 1429.5L582.0 1429.5L601.2 1429.5L620.5 1392.5L639.8 1371.2L659.1 1360.0L678.4 1348.9L697.6 1337.3L716.9 1324.4L736.2 1313.7L755.5 1302.2L774.7 1292.9L794.0 1270.2L813.3 1253.5L832.5 1241.5L851.8 1233.6L871.1 1225.7L890.4 1204.4L909.6 1198.0L928.9 1187.3L948.2 1164.2L967.5 1152.6L986.8 1135.7L1006.0 1118.8L1025.3 1110.9L1044.6 1100.7L1063.8 1076.6L1083.1 1070.6L1102.4 1066.9L1121.7 1050.7L1141.0 1054.9L1160.2 1055.8L1179.5 1066.9L1198.8 1067.8L1218.0 1082.7L1237.3 1094.7L1256.6 1101.3L1275.9 1108.0L1295.2 1114.6L1314.4 1119.7L1333.7 1124.8L1353.0 1147.0L1372.2 1162.8L1391.5 1181.8L1410.8 1194.3L1430.1 1216.5L1449.3 1226.7L1468.6 1237.3L1487.9 1235.0L1507.2 1232.7L1526.5 1234.3L1545.7 1236.0L1565.0 1237.8L1584.3 1239.6L1603.5 1242.6L1622.8 1245.6L1642.1 1250.8L1661.4 1264.6L1680.7 1272.5L1699.9 1277.6L1719.2 1289.7L1738.5 1294.7L1757.8 1302.6L1777.0 1305.9L1796.3 1312.8L1815.6 1316.5L1834.8 1320.7L1854.1 1320.7L1873.4 1324.4L1892.7 1325.8L1912.0 1330.4L1931.2 1332.7L1950.5 1333.6L1969.8 1333.6L1989.0 1336.4L2008.3 1339.0L2027.6 1341.5L2046.9 1343.1L2066.2 1344.8L2085.4 1345.5L2104.7 1346.1L2124.0 1346.8L2143.2 1347.5L2162.5 1348.6L2181.8 1349.6L2201.1 1350.6L2220.3 1351.6L2239.6 1352.6L2258.9 1353.6L2278.2 1354.5L2297.4 1355.4L2316.7 1356.3L2336.0 1357.3" fill="none" stroke="#00cccc" stroke-width="11.7" stroke-linejoin="bevel"/>
<path d="M408.5 1404.2L429.8 1442.2L387.2 1442.2zM427.8 1404.2L449.1 1442.2L406.5 1442.2zM447.1 1404.2L468.4 1442.2L425.8 1442.2zM466.3 1404.2L487.6 1442.2L445.0 1442.2zM485.6 1404.2L506.9 1442.2L464.3 1442.2zM504.9 1404.2L526.2 1442.2L483.6 1442.2zM524.1 1404.2L545.4 1442.2L502.8 1442.2zM543.4 1404.2L564.7 1442.2L522.1 1442.2zM562.7 1404.2L584.0 1442.2L541.4 1442.2zM582.0 1404.2L603.3 1442.2L560.7 1442.2zM601.2 1404.2L622.5 1442.2L580.0 1442.2zM620.5 1367.2L641.8 1405.2L599.2 1405.2zM639.8 1345.9L661.1 1383.9L618.5 1383.9zM659.1 1334.7L680.4 1372.7L637.8 1372.7zM678.4 1323.6L699.6 1361.6L657.1 1361.6zM697.6 1312.0L718.9 1350.0L676.3 1350.0zM716.9 1299.1L738.2 1337.1L695.6 1337.1zM736.2 1288.4L757.5 1326.4L714.9 1326.4zM755.5 1276.9L776.8 1314.9L734.2 1314.9zM774.7 1267.6L796.0 1305.6L753.4 1305.6zM794.0 1244.9L815.3 1282.9L772.7 1282.9zM813.3 1228.2L834.6 1266.2L792.0 1266.2zM832.5 1216.2L853.8 1254.2L811.2 1254.2zM851.8 1208.3L873.1 1246.3L830.5 1246.3zM871.1 1200.4L892.4 1238.4L849.8 1238.4zM890.4 1179.1L911.7 1217.1L869.1 1217.1zM909.6 1172.7L930.9 1210.7L888.4 1210.7zM928.9 1162.0L950.2 1200.0L907.6 1200.0zM948.2 1138.9L969.5 1176.9L926.9 1176.9zM967.5 1127.3L988.8 1165.3L946.2 1165.3zM986.8 1110.4L1008.0 1148.4L965.5 1148.4zM1006.0 1093.5L1027.3 1131.5L984.7 1131.5zM1025.3 1085.6L1046.6 1123.6L1004.0 1123.6zM1044.6 1075.4L1065.9 1113.4L1023.3 1113.4zM1063.8 1051.3L1085.1 1089.3L1042.5 1089.3zM1083.1 1045.3L1104.4 1083.3L1061.8 1083.3zM1102.4 1041.6L1123.7 1079.6L1081.1 1079.6zM1121.7 1025.4L1143.0 1063.4L1100.4 1063.4zM1141.0 1029.6L1162.2 1067.6L1119.7 1067.6zM1160.2 1030.5L1181.5 1068.5L1138.9 1068.5zM1179.5 1041.6L1200.8 1079.6L1158.2 1079.6zM1198.8 1042.5L1220.1 1080.5L1177.5 1080.5zM1218.0 1057.4L1239.3 1095.4L1196.8 1095.4zM1237.3 1069.4L1258.6 1107.4L1216.0 1107.4zM1256.6 1076.0L1277.9 1114.0L1235.3 1114.0zM1275.9 1082.7L1297.2 1120.7L1254.6 1120.7zM1295.2 1089.3L1316.5 1127.3L1273.9 1127.3zM1314.4 1094.4L1335.7 1132.4L1293.1 1132.4zM1333.7 1099.5L1355.0 1137.5L1312.4 1137.5zM1353.0 1121.7L1374.3 1159.7L1331.7 1159.7zM1372.2 1137.5L1393.5 1175.5L1351.0 1175.5zM1391.5 1156.5L1412.8 1194.5L1370.2 1194.5zM1410.8 1169.0L1432.1 1207.0L1389.5 1207.0zM1430.1 1191.2L1451.4 1229.2L1408.8 1229.2zM1449.3 1201.4L1470.6 1239.4L1428.0 1239.4zM1468.6 1212.0L1489.9 1250.0L1447.3 1250.0zM1487.9 1209.7L1509.2 1247.7L1466.6 1247.7zM1507.2 1207.4L1528.5 1245.4L1485.9 1245.4zM1526.5 1209.0L1547.8 1247.0L1505.2 1247.0zM1545.7 1210.7L1567.0 1248.7L1524.4 1248.7zM1565.0 1212.5L1586.3 1250.5L1543.7 1250.5zM1584.3 1214.3L1605.6 1252.3L1563.0 1252.3zM1603.5 1217.3L1624.8 1255.3L1582.2 1255.3zM1622.8 1220.3L1644.1 1258.3L1601.5 1258.3zM1642.1 1225.5L1663.4 1263.5L1620.8 1263.5zM1661.4 1239.3L1682.7 1277.3L1640.1 1277.3zM1680.7 1247.2L1702.0 1285.2L1659.4 1285.2zM1699.9 1252.3L1721.2 1290.3L1678.6 1290.3zM1719.2 1264.4L1740.5 1302.4L1697.9 1302.4zM1738.5 1269.4L1759.8 1307.4L1717.2 1307.4zM1757.8 1277.3L1779.0 1315.3L1736.5 1315.3zM1777.0 1280.6L1798.3 1318.6L1755.7 1318.6zM1796.3 1287.5L1817.6 1325.5L1775.0 1325.5zM1815.6 1291.2L1836.9 1329.2L1794.3 1329.2zM1834.8 1295.4L1856.1 1333.4L1813.5 1333.4zM1854.1 1295.4L1875.4 1333.4L1832.8 1333.4zM1873.4 1299.1L1894.7 1337.1L1852.1 1337.1zM1892.7 1300.5L1914.0 1338.5L1871.4 1338.5zM1912.0 1305.1L1933.2 1343.1L1890.7 1343.1zM1931.2 1307.4L1952.5 1345.4L1909.9 1345.4zM1950.5 1308.3L1971.8 1346.3L1929.2 1346.3zM1969.8 1308.3L1991.1 1346.3L1948.5 1346.3zM1989.0 1311.1L2010.3 1349.1L1967.8 1349.1zM2008.3 1313.7L2029.6 1351.7L1987.0 1351.7zM2027.6 1316.2L2048.9 1354.2L2006.3 1354.2zM2046.9 1317.8L2068.2 1355.8L2025.6 1355.8zM2066.2 1319.5L2087.5 1357.5L2044.9 1357.5zM2085.4 1320.2L2106.7 1358.2L2064.1 1358.2zM2104.7 1320.8L2126.0 1358.8L2083.4 1358.8zM2124.0 1321.5L2145.3 1359.5L2102.7 1359.5zM2143.2 1322.2L2164.6 1360.2L2121.9 1360.2zM2162.5 1323.3L2183.8 1361.3L2141.2 1361.3zM2181.8 1324.3L2203.1 1362.3L2160.5 1362.3zM2201.1 1325.3L2222.4 1363.3L2179.8 1363.3zM2220.3 1326.3L2241.7 1364.3L2199.0 1364.3zM2239.6 1327.3L2260.9 1365.3L2218.3 1365.3zM2258.9 1328.3L2280.2 1366.3L2237.6 1366.3zM2278.2 1329.2L2299.5 1367.2L2256.9 1367.2zM2297.4 1330.1L2318.8 1368.1L2276.1 1368.1zM2316.7 1331.0L2338.0 1369.0L2295.4 1369.0zM2336.0 1332.0L2357.3 1370.0L2314.7 1370.0z" fill="#00cccc"/>
<path d="M408.5 1429.5L427.8 1429.5L447.1 1429.5L466.3 1429.5L485.6 1429.5L504.9 1429.5L524.1 1429.5L543.4 1415.6L562.7 1372.1L582.0 1351.2L601.2 1339.7L620.5 1334.1L639.8 1317.0L659.1 1298.9L678.4 1289.2L697.6 1289.2L716.9 1284.1L736.2 1242.9L755.5 1235.9L774.7 1221.6L794.0 1212.8L813.3 1202.1L832.5 1182.7L851.8 1157.7L871.1 1132.2L890.4 1103.5L909.6 1085.0L928.9 1070.2L948.2 1052.1L967.5 1044.2L986.8 1034.0L1006.0 1034.0L1025.3 1034.0L1044.6 1054.4L1063.8 1072.0L1083.1 1090.1L1102.4 1112.9L1121.7 1130.8L1141.0 1142.4L1160.2 1160.9L1179.5 1172.0L1198.8 1186.4L1218.0 1205.4L1237.3 1214.2L1256.6 1226.2L1275.9 1235.5L1295.2 1245.2L1314.4 1259.1L1333.7 1270.2L1353.0 1281.3L1372.2 1290.6L1391.5 1299.8L1410.8 1306.8L1430.1 1313.7L1449.3 1321.1L1468.6 1334.1L1487.9 1342.4L1507.2 1348.9L1526.5 1355.4L1545.7 1361.0L1565.0 1364.7L1584.3 1367.8L1603.5 1370.4L1622.8 1372.7L1642.1 1374.8L1661.4 1376.7L1680.7 1378.6L1699.9 1380.4L1719.2 1382.2L1738.5 1383.8L1757.8 1385.6L1777.0 1387.6L1796.3 1388.6L1815.6 1389.1L1834.8 1389.6L1854.1 1390.0L1873.4 1390.5L1892.7 1391.0L1912.0 1391.5L1931.2 1392.0L1950.5 1392.5L1969.8 1392.6L1989.0 1392.7L2008.3 1392.8L2027.6 1392.9L2046.9 1393.0L2066.2 1393.1L2085.4 1393.3L2104.7 1393.4L2124.0 1393.5L2143.2 1393.6L2162.5 1393.7L2181.8 1393.8L2201.1 1394.0L2220.3 1394.1L2239.6 1394.2L2258.9 1394.3L2278.2 1394.4L2297.4 1394.5L2316.7 1394.7L2336.0 1394.8" fill="none" stroke="#8a4e4e" stroke-width="11.7" stroke-linejoin="bevel"/>
<path d="M408.5 1454.8L429.8 1416.8L387.2 1416.8zM427.8 1454.8L449.1 1416.8L406.5 1416.8zM447.1 1454.8L468.4 1416.8L425.8 1416.8zM466.3 1454.8L487.6 1416.8L445.0 1416.8zM485.6 1454.8L506.9 1416.8L464.3 1416.8zM504.9 1454.8L526.2 1416.8L483.6 1416.8zM524.1 1454.8L545.4 1416.8L502.8 1416.8zM543.4 1440.9L564.7 1402.9L522.1 1402.9zM562.7 1397.4L584.0 1359.4L541.4 1359.4zM582.0 1376.5L603.3 1338.5L560.7 1338.5zM601.2 1365.0L622.5 1327.0L580.0 1327.0zM620.5 1359.4L641.8 1321.4L599.2 1321.4zM639.8 1342.3L661.1 1304.3L618.5 1304.3zM659.1 1324.2L680.4 1286.2L637.8 1286.2zM678.4 1314.5L699.6 1276.5L657.1 1276.5zM697.6 1314.5L718.9 1276.5L676.3 1276.5zM716.9 1309.4L738.2 1271.4L695.6 1271.4zM736.2 1268.2L757.5 1230.2L714.9 1230.2zM755.5 1261.2L776.8 1223.2L734.2 1223.2zM774.7 1246.9L796.0 1208.9L753.4 1208.9zM794.0 1238.1L815.3 1200.1L772.7 1200.1zM813.3 1227.4L834.6 1189.4L792.0 1189.4zM832.5 1208.0L853.8 1170.0L811.2 1170.0zM851.8 1183.0L873.1 1145.0L830.5 1145.0zM871.1 1157.5L892.4 1119.5L849.8 1119.5zM890.4 1128.8L911.7 1090.8L869.1 1090.8zM909.6 1110.3L930.9 1072.3L888.4 1072.3zM928.9 1095.5L950.2 1057.5L907.6 1057.5zM948.2 1077.4L969.5 1039.4L926.9 1039.4zM967.5 1069.5L988.8 1031.5L946.2 1031.5zM986.8 1059.3L1008.0 1021.3L965.5 1021.3zM1006.0 1059.3L1027.3 1021.3L984.7 1021.3zM1025.3 1059.3L1046.6 1021.3L1004.0 1021.3zM1044.6 1079.7L1065.9 1041.7L1023.3 1041.7zM1063.8 1097.3L1085.1 1059.3L1042.5 1059.3zM1083.1 1115.4L1104.4 1077.4L1061.8 1077.4zM1102.4 1138.2L1123.7 1100.2L1081.1 1100.2zM1121.7 1156.1L1143.0 1118.1L1100.4 1118.1zM1141.0 1167.7L1162.2 1129.7L1119.7 1129.7zM1160.2 1186.2L1181.5 1148.2L1138.9 1148.2zM1179.5 1197.3L1200.8 1159.3L1158.2 1159.3zM1198.8 1211.7L1220.1 1173.7L1177.5 1173.7zM1218.0 1230.7L1239.3 1192.7L1196.8 1192.7zM1237.3 1239.5L1258.6 1201.5L1216.0 1201.5zM1256.6 1251.5L1277.9 1213.5L1235.3 1213.5zM1275.9 1260.8L1297.2 1222.8L1254.6 1222.8zM1295.2 1270.5L1316.5 1232.5L1273.9 1232.5zM1314.4 1284.4L1335.7 1246.4L1293.1 1246.4zM1333.7 1295.5L1355.0 1257.5L1312.4 1257.5zM1353.0 1306.6L1374.3 1268.6L1331.7 1268.6zM1372.2 1315.9L1393.5 1277.9L1351.0 1277.9zM1391.5 1325.1L1412.8 1287.1L1370.2 1287.1zM1410.8 1332.1L1432.1 1294.1L1389.5 1294.1zM1430.1 1339.0L1451.4 1301.0L1408.8 1301.0zM1449.3 1346.4L1470.6 1308.4L1428.0 1308.4zM1468.6 1359.4L1489.9 1321.4L1447.3 1321.4zM1487.9 1367.7L1509.2 1329.7L1466.6 1329.7zM1507.2 1374.2L1528.5 1336.2L1485.9 1336.2zM1526.5 1380.7L1547.8 1342.7L1505.2 1342.7zM1545.7 1386.3L1567.0 1348.3L1524.4 1348.3zM1565.0 1390.0L1586.3 1352.0L1543.7 1352.0zM1584.3 1393.1L1605.6 1355.1L1563.0 1355.1zM1603.5 1395.7L1624.8 1357.7L1582.2 1357.7zM1622.8 1398.0L1644.1 1360.0L1601.5 1360.0zM1642.1 1400.1L1663.4 1362.1L1620.8 1362.1zM1661.4 1402.0L1682.7 1364.0L1640.1 1364.0zM1680.7 1403.9L1702.0 1365.9L1659.4 1365.9zM1699.9 1405.7L1721.2 1367.7L1678.6 1367.7zM1719.2 1407.5L1740.5 1369.5L1697.9 1369.5zM1738.5 1409.1L1759.8 1371.1L1717.2 1371.1zM1757.8 1410.9L1779.0 1372.9L1736.5 1372.9zM1777.0 1412.9L1798.3 1374.9L1755.7 1374.9zM1796.3 1413.9L1817.6 1375.9L1775.0 1375.9zM1815.6 1414.4L1836.9 1376.4L1794.3 1376.4zM1834.8 1414.9L1856.1 1376.9L1813.5 1376.9zM1854.1 1415.3L1875.4 1377.3L1832.8 1377.3zM1873.4 1415.8L1894.7 1377.8L1852.1 1377.8zM1892.7 1416.3L1914.0 1378.3L1871.4 1378.3zM1912.0 1416.8L1933.2 1378.8L1890.7 1378.8zM1931.2 1417.3L1952.5 1379.3L1909.9 1379.3zM1950.5 1417.8L1971.8 1379.8L1929.2 1379.8zM1969.8 1417.9L1991.1 1379.9L1948.5 1379.9zM1989.0 1418.0L2010.3 1380.0L1967.8 1380.0zM2008.3 1418.1L2029.6 1380.1L1987.0 1380.1zM2027.6 1418.2L2048.9 1380.2L2006.3 1380.2zM2046.9 1418.3L2068.2 1380.3L2025.6 1380.3zM2066.2 1418.4L2087.5 1380.4L2044.9 1380.4zM2085.4 1418.6L2106.7 1380.6L2064.1 1380.6zM2104.7 1418.7L2126.0 1380.7L2083.4 1380.7zM2124.0 1418.8L2145.3 1380.8L2102.7 1380.8zM2143.2 1418.9L2164.6 1380.9L2121.9 1380.9zM2162.5 1419.0L2183.8 1381.0L2141.2 1381.0zM2181.8 1419.1L2203.1 1381.1L2160.5 1381.1zM2201.1 1419.3L2222.4 1381.3L2179.8 1381.3zM2220.3 1419.4L2241.7 1381.4L2199.0 1381.4zM2239.6 1419.5L2260.9 1381.5L2218.3 1381.5zM2258.9 1419.6L2280.2 1381.6L2237.6 1381.6zM2278.2 1419.7L2299.5 1381.7L2256.9 1381.7zM2297.4 1419.8L2318.8 1381.8L2276.1 1381.8zM2316.7 1420.0L2338.0 1382.0L2295.4 1382.0zM2336.0 1420.1L2357.3 1382.1L2314.7 1382.1z" fill="#8a4e4e"/>
<path d="M408.5 1432.7L427.8 1432.6L447.1 1432.5L466.3 1432.4L485.6 1432.3L504.9 1432.2L524.1 1432.0L543.4 1431.9L562.7 1431.8L582.0 1424.9L601.2 1370.2L620.5 1267.9L639.8 1261.4L659.1 1256.3L678.4 1256.3L697.6 1259.6L716.9 1260.5L736.2 1260.5L755.5 1260.5L774.7 1254.2L794.0 1248.0L813.3 1246.1L832.5 1239.6L851.8 1231.8L871.1 1222.0L890.4 1206.3L909.6 1197.0L928.9 1181.3L948.2 1156.7L967.5 1142.4L986.8 1129.0L1006.0 1132.7L1025.3 1127.6L1044.6 1120.6L1063.8 1115.5L1083.1 1113.7L1102.4 1116.9L1121.7 1109.1L1141.0 1106.3L1160.2 1103.5L1179.5 1100.7L1198.8 1102.6L1218.0 1088.2L1237.3 1098.9L1256.6 1093.8L1275.9 1085.9L1295.2 1092.8L1314.4 1087.8L1333.7 1095.2L1353.0 1094.7L1372.2 1100.7L1391.5 1091.9L1410.8 1097.5L1430.1 1099.3L1449.3 1090.5L1468.6 1091.9L1487.9 1089.6L1507.2 1093.3L1526.5 1097.5L1545.7 1088.7L1565.0 1085.4L1584.3 1089.0L1603.5 1092.5L1622.8 1096.1L1642.1 1098.6L1661.4 1101.0L1680.7 1103.5L1699.9 1106.3L1719.2 1111.4L1738.5 1114.1L1757.8 1127.1L1777.0 1120.2L1796.3 1132.2L1815.6 1138.2L1834.8 1147.0L1854.1 1150.3L1873.4 1151.2L1892.7 1156.3L1912.0 1162.3L1931.2 1177.1L1950.5 1176.2L1969.8 1185.0L1989.0 1195.2L2008.3 1193.3L2027.6 1209.1L2046.9 1213.2L2066.2 1217.9L2085.4 1223.0L2104.7 1228.1L2124.0 1230.4L2143.2 1232.7L2162.5 1236.4L2181.8 1240.1L2201.1 1243.8L2220.3 1247.5L2239.6 1251.2L2258.9 1257.8L2278.2 1264.4L2297.4 1270.9L2316.7 1277.5L2336.0 1284.1" fill="none" stroke="#919100" stroke-width="11.7" stroke-linejoin="bevel"/>
<path d="M408.5 1410.2L425.7 1432.7L408.5 1455.2L391.3 1432.7zM427.8 1410.1L445.0 1432.6L427.8 1455.1L410.6 1432.6zM447.1 1410.0L464.2 1432.5L447.1 1455.0L429.9 1432.5zM466.3 1409.9L483.5 1432.4L466.3 1454.9L449.1 1432.4zM485.6 1409.8L502.8 1432.3L485.6 1454.8L468.4 1432.3zM504.9 1409.7L522.1 1432.2L504.9 1454.7L487.7 1432.2zM524.1 1409.5L541.4 1432.0L524.1 1454.5L506.9 1432.0zM543.4 1409.4L560.6 1431.9L543.4 1454.4L526.2 1431.9zM562.7 1409.3L579.9 1431.8L562.7 1454.3L545.5 1431.8zM582.0 1402.4L599.2 1424.9L582.0 1447.4L564.8 1424.9zM601.2 1347.7L618.5 1370.2L601.2 1392.7L584.0 1370.2zM620.5 1245.4L637.7 1267.9L620.5 1290.4L603.3 1267.9zM639.8 1238.9L657.0 1261.4L639.8 1283.9L622.6 1261.4zM659.1 1233.8L676.3 1256.3L659.1 1278.8L641.9 1256.3zM678.4 1233.8L695.6 1256.3L678.4 1278.8L661.1 1256.3zM697.6 1237.1L714.8 1259.6L697.6 1282.1L680.4 1259.6zM716.9 1238.0L734.1 1260.5L716.9 1283.0L699.7 1260.5zM736.2 1238.0L753.4 1260.5L736.2 1283.0L719.0 1260.5zM755.5 1238.0L772.7 1260.5L755.5 1283.0L738.2 1260.5zM774.7 1231.7L791.9 1254.2L774.7 1276.7L757.5 1254.2zM794.0 1225.5L811.2 1248.0L794.0 1270.5L776.8 1248.0zM813.3 1223.6L830.5 1246.1L813.3 1268.6L796.1 1246.1zM832.5 1217.1L849.8 1239.6L832.5 1262.1L815.3 1239.6zM851.8 1209.3L869.0 1231.8L851.8 1254.3L834.6 1231.8zM871.1 1199.5L888.3 1222.0L871.1 1244.5L853.9 1222.0zM890.4 1183.8L907.6 1206.3L890.4 1228.8L873.2 1206.3zM909.6 1174.5L926.9 1197.0L909.6 1219.5L892.4 1197.0zM928.9 1158.8L946.1 1181.3L928.9 1203.8L911.7 1181.3zM948.2 1134.2L965.4 1156.7L948.2 1179.2L931.0 1156.7zM967.5 1119.9L984.7 1142.4L967.5 1164.9L950.3 1142.4zM986.8 1106.5L1004.0 1129.0L986.8 1151.5L969.5 1129.0zM1006.0 1110.2L1023.2 1132.7L1006.0 1155.2L988.8 1132.7zM1025.3 1105.1L1042.5 1127.6L1025.3 1150.1L1008.1 1127.6zM1044.6 1098.1L1061.8 1120.6L1044.6 1143.1L1027.4 1120.6zM1063.8 1093.0L1081.0 1115.5L1063.8 1138.0L1046.6 1115.5zM1083.1 1091.2L1100.3 1113.7L1083.1 1136.2L1065.9 1113.7zM1102.4 1094.4L1119.6 1116.9L1102.4 1139.4L1085.2 1116.9zM1121.7 1086.6L1138.9 1109.1L1121.7 1131.6L1104.5 1109.1zM1141.0 1083.8L1158.2 1106.3L1141.0 1128.8L1123.8 1106.3zM1160.2 1081.0L1177.4 1103.5L1160.2 1126.0L1143.0 1103.5zM1179.5 1078.2L1196.7 1100.7L1179.5 1123.2L1162.3 1100.7zM1198.8 1080.1L1216.0 1102.6L1198.8 1125.1L1181.6 1102.6zM1218.0 1065.7L1235.2 1088.2L1218.0 1110.7L1200.8 1088.2zM1237.3 1076.4L1254.5 1098.9L1237.3 1121.4L1220.1 1098.9zM1256.6 1071.3L1273.8 1093.8L1256.6 1116.3L1239.4 1093.8zM1275.9 1063.4L1293.1 1085.9L1275.9 1108.4L1258.7 1085.9zM1295.2 1070.3L1312.4 1092.8L1295.2 1115.3L1278.0 1092.8zM1314.4 1065.3L1331.6 1087.8L1314.4 1110.3L1297.2 1087.8zM1333.7 1072.7L1350.9 1095.2L1333.7 1117.7L1316.5 1095.2zM1353.0 1072.2L1370.2 1094.7L1353.0 1117.2L1335.8 1094.7zM1372.2 1078.2L1389.5 1100.7L1372.2 1123.2L1355.0 1100.7zM1391.5 1069.4L1408.7 1091.9L1391.5 1114.4L1374.3 1091.9zM1410.8 1075.0L1428.0 1097.5L1410.8 1120.0L1393.6 1097.5zM1430.1 1076.8L1447.3 1099.3L1430.1 1121.8L1412.9 1099.3zM1449.3 1068.0L1466.5 1090.5L1449.3 1113.0L1432.1 1090.5zM1468.6 1069.4L1485.8 1091.9L1468.6 1114.4L1451.4 1091.9zM1487.9 1067.1L1505.1 1089.6L1487.9 1112.1L1470.7 1089.6zM1507.2 1070.8L1524.4 1093.3L1507.2 1115.8L1490.0 1093.3zM1526.5 1075.0L1543.7 1097.5L1526.5 1120.0L1509.2 1097.5zM1545.7 1066.2L1562.9 1088.7L1545.7 1111.2L1528.5 1088.7zM1565.0 1062.9L1582.2 1085.4L1565.0 1107.9L1547.8 1085.4zM1584.3 1066.5L1601.5 1089.0L1584.3 1111.5L1567.1 1089.0zM1603.5 1070.0L1620.8 1092.5L1603.5 1115.0L1586.3 1092.5zM1622.8 1073.6L1640.0 1096.1L1622.8 1118.6L1605.6 1096.1zM1642.1 1076.1L1659.3 1098.6L1642.1 1121.1L1624.9 1098.6zM1661.4 1078.5L1678.6 1101.0L1661.4 1123.5L1644.2 1101.0zM1680.7 1081.0L1697.9 1103.5L1680.7 1126.0L1663.5 1103.5zM1699.9 1083.8L1717.1 1106.3L1699.9 1128.8L1682.7 1106.3zM1719.2 1088.9L1736.4 1111.4L1719.2 1133.9L1702.0 1111.4zM1738.5 1091.6L1755.7 1114.1L1738.5 1136.6L1721.3 1114.1zM1757.8 1104.6L1775.0 1127.1L1757.8 1149.6L1740.5 1127.1zM1777.0 1097.7L1794.2 1120.2L1777.0 1142.7L1759.8 1120.2zM1796.3 1109.7L1813.5 1132.2L1796.3 1154.7L1779.1 1132.2zM1815.6 1115.7L1832.8 1138.2L1815.6 1160.7L1798.4 1138.2zM1834.8 1124.5L1852.0 1147.0L1834.8 1169.5L1817.6 1147.0zM1854.1 1127.8L1871.3 1150.3L1854.1 1172.8L1836.9 1150.3zM1873.4 1128.7L1890.6 1151.2L1873.4 1173.7L1856.2 1151.2zM1892.7 1133.8L1909.9 1156.3L1892.7 1178.8L1875.5 1156.3zM1912.0 1139.8L1929.2 1162.3L1912.0 1184.8L1894.8 1162.3zM1931.2 1154.6L1948.4 1177.1L1931.2 1199.6L1914.0 1177.1zM1950.5 1153.7L1967.7 1176.2L1950.5 1198.7L1933.3 1176.2zM1969.8 1162.5L1987.0 1185.0L1969.8 1207.5L1952.6 1185.0zM1989.0 1172.7L2006.2 1195.2L1989.0 1217.7L1971.8 1195.2zM2008.3 1170.8L2025.5 1193.3L2008.3 1215.8L1991.1 1193.3zM2027.6 1186.6L2044.8 1209.1L2027.6 1231.6L2010.4 1209.1zM2046.9 1190.7L2064.1 1213.2L2046.9 1235.7L2029.7 1213.2zM2066.2 1195.4L2083.3 1217.9L2066.2 1240.4L2049.0 1217.9zM2085.4 1200.5L2102.6 1223.0L2085.4 1245.5L2068.2 1223.0zM2104.7 1205.6L2121.9 1228.1L2104.7 1250.6L2087.5 1228.1zM2124.0 1207.9L2141.2 1230.4L2124.0 1252.9L2106.8 1230.4zM2143.2 1210.2L2160.4 1232.7L2143.2 1255.2L2126.1 1232.7zM2162.5 1213.9L2179.7 1236.4L2162.5 1258.9L2145.3 1236.4zM2181.8 1217.6L2199.0 1240.1L2181.8 1262.6L2164.6 1240.1zM2201.1 1221.3L2218.3 1243.8L2201.1 1266.3L2183.9 1243.8zM2220.3 1225.0L2237.5 1247.5L2220.3 1270.0L2203.2 1247.5zM2239.6 1228.7L2256.8 1251.2L2239.6 1273.7L2222.4 1251.2zM2258.9 1235.3L2276.1 1257.8L2258.9 1280.3L2241.7 1257.8zM2278.2 1241.9L2295.4 1264.4L2278.2 1286.9L2261.0 1264.4zM2297.4 1248.4L2314.6 1270.9L2297.4 1293.4L2280.2 1270.9zM2316.7 1255.0L2333.9 1277.5L2316.7 1300.0L2299.5 1277.5zM2336.0 1261.6L2353.2 1284.1L2336.0 1306.6L2318.8 1284.1z" fill="#919100"/>
<path d="M408.5 1429.5L427.8 1429.5L447.1 1429.5L466.3 1429.5L485.6 1429.5L504.9 1429.5L524.1 1429.5L543.4 1429.5L562.7 1429.5L582.0 1429.5L601.2 1429.5L620.5 1429.5L639.8 1429.5L659.1 1428.8L678.4 1428.2L697.6 1427.5L716.9 1426.9L736.2 1426.2L755.5 1425.5L774.7 1424.9L794.0 1406.3L813.3 1383.2L832.5 1364.7L851.8 1364.7L871.1 1369.3L890.4 1376.7L909.6 1378.6L928.9 1393.4L948.2 1404.0L967.5 1405.0L986.8 1409.6L1006.0 1411.9L1025.3 1411.7L1044.6 1411.4L1063.8 1411.2L1083.1 1411.0L1102.4 1387.8L1121.7 1237.8L1141.0 1248.9L1160.2 1266.0L1179.5 1282.7L1198.8 1282.0L1218.0 1281.3L1237.3 1281.3L1256.6 1281.3L1275.9 1282.5L1295.2 1283.6L1314.4 1278.8L1333.7 1273.9L1353.0 1277.8L1372.2 1281.8L1391.5 1279.0L1410.8 1275.8L1430.1 1272.5L1449.3 1270.2L1468.6 1267.0L1487.9 1272.1L1507.2 1273.0L1526.5 1270.2L1545.7 1265.1L1565.0 1261.4L1584.3 1258.2L1603.5 1271.1L1622.8 1283.2L1642.1 1286.4L1661.4 1291.3L1680.7 1296.1L1699.9 1303.1L1719.2 1307.2L1738.5 1319.3L1757.8 1328.1L1777.0 1332.1L1796.3 1336.1L1815.6 1340.2L1834.8 1344.2L1854.1 1348.2L1873.4 1351.7L1892.7 1354.5L1912.0 1357.4L1931.2 1360.2L1950.5 1363.1L1969.8 1367.0L1989.0 1371.6L2008.3 1339.7L2027.6 1265.1L2046.9 1312.3L2066.2 1321.1L2085.4 1331.3L2104.7 1346.1L2124.0 1359.1L2143.2 1376.2L2162.5 1388.3L2181.8 1395.0L2201.1 1401.7L2220.3 1401.8L2239.6 1402.0L2258.9 1402.1L2278.2 1402.2L2297.4 1402.4L2316.7 1402.5L2336.0 1402.6" fill="none" stroke="#ff6600" stroke-width="11.7" stroke-linejoin="bevel"/>
<path d="M388.7 1429.5L418.4 1407.5L418.4 1451.5zM408.0 1429.5L437.7 1407.5L437.7 1451.5zM427.2 1429.5L456.9 1407.5L456.9 1451.5zM446.5 1429.5L476.2 1407.5L476.2 1451.5zM465.8 1429.5L495.5 1407.5L495.5 1451.5zM485.1 1429.5L514.8 1407.5L514.8 1451.5zM504.3 1429.5L534.0 1407.5L534.0 1451.5zM523.6 1429.5L553.3 1407.5L553.3 1451.5zM542.9 1429.5L572.6 1407.5L572.6 1451.5zM562.2 1429.5L591.9 1407.5L591.9 1451.5zM581.5 1429.5L611.1 1407.5L611.1 1451.5zM600.7 1429.5L630.4 1407.5L630.4 1451.5zM620.0 1429.5L649.7 1407.5L649.7 1451.5zM639.3 1428.8L669.0 1406.8L669.0 1450.8zM658.6 1428.2L688.2 1406.2L688.2 1450.2zM677.8 1427.5L707.5 1405.5L707.5 1449.5zM697.1 1426.9L726.8 1404.9L726.8 1448.9zM716.4 1426.2L746.1 1404.2L746.1 1448.2zM735.7 1425.5L765.4 1403.5L765.4 1447.5zM754.9 1424.9L784.6 1402.9L784.6 1446.9zM774.2 1406.3L803.9 1384.3L803.9 1428.3zM793.5 1383.2L823.2 1361.2L823.2 1405.2zM812.8 1364.7L842.4 1342.7L842.4 1386.7zM832.0 1364.7L861.7 1342.7L861.7 1386.7zM851.3 1369.3L881.0 1347.3L881.0 1391.3zM870.6 1376.7L900.3 1354.7L900.3 1398.7zM889.9 1378.6L919.5 1356.6L919.5 1400.6zM909.1 1393.4L938.8 1371.4L938.8 1415.4zM928.4 1404.0L958.1 1382.0L958.1 1426.0zM947.7 1405.0L977.4 1383.0L977.4 1427.0zM967.0 1409.6L996.6 1387.6L996.6 1431.6zM986.2 1411.9L1015.9 1389.9L1015.9 1433.9zM1005.5 1411.7L1035.2 1389.7L1035.2 1433.7zM1024.8 1411.4L1054.5 1389.4L1054.5 1433.4zM1044.0 1411.2L1073.8 1389.2L1073.8 1433.2zM1063.3 1411.0L1093.0 1389.0L1093.0 1433.0zM1082.6 1387.8L1112.3 1365.8L1112.3 1409.8zM1101.9 1237.8L1131.6 1215.8L1131.6 1259.8zM1121.2 1248.9L1150.9 1226.9L1150.9 1270.9zM1140.4 1266.0L1170.1 1244.0L1170.1 1288.0zM1159.7 1282.7L1189.4 1260.7L1189.4 1304.7zM1179.0 1282.0L1208.7 1260.0L1208.7 1304.0zM1198.2 1281.3L1228.0 1259.3L1228.0 1303.3zM1217.5 1281.3L1247.2 1259.3L1247.2 1303.3zM1236.8 1281.3L1266.5 1259.3L1266.5 1303.3zM1256.1 1282.5L1285.8 1260.5L1285.8 1304.5zM1275.4 1283.6L1305.1 1261.6L1305.1 1305.6zM1294.6 1278.8L1324.3 1256.8L1324.3 1300.8zM1313.9 1273.9L1343.6 1251.9L1343.6 1295.9zM1333.2 1277.8L1362.9 1255.8L1362.9 1299.8zM1352.5 1281.8L1382.2 1259.8L1382.2 1303.8zM1371.7 1279.0L1401.4 1257.0L1401.4 1301.0zM1391.0 1275.8L1420.7 1253.8L1420.7 1297.8zM1410.3 1272.5L1440.0 1250.5L1440.0 1294.5zM1429.5 1270.2L1459.2 1248.2L1459.2 1292.2zM1448.8 1267.0L1478.5 1245.0L1478.5 1289.0zM1468.1 1272.1L1497.8 1250.1L1497.8 1294.1zM1487.4 1273.0L1517.1 1251.0L1517.1 1295.0zM1506.7 1270.2L1536.4 1248.2L1536.4 1292.2zM1525.9 1265.1L1555.6 1243.1L1555.6 1287.1zM1545.2 1261.4L1574.9 1239.4L1574.9 1283.4zM1564.5 1258.2L1594.2 1236.2L1594.2 1280.2zM1583.8 1271.1L1613.5 1249.1L1613.5 1293.1zM1603.0 1283.2L1632.7 1261.2L1632.7 1305.2zM1622.3 1286.4L1652.0 1264.4L1652.0 1308.4zM1641.6 1291.3L1671.3 1269.3L1671.3 1313.3zM1660.9 1296.1L1690.6 1274.1L1690.6 1318.1zM1680.1 1303.1L1709.8 1281.1L1709.8 1325.1zM1699.4 1307.2L1729.1 1285.2L1729.1 1329.2zM1718.7 1319.3L1748.4 1297.3L1748.4 1341.3zM1738.0 1328.1L1767.7 1306.1L1767.7 1350.1zM1757.2 1332.1L1786.9 1310.1L1786.9 1354.1zM1776.5 1336.1L1806.2 1314.1L1806.2 1358.1zM1795.8 1340.2L1825.5 1318.2L1825.5 1362.2zM1815.0 1344.2L1844.8 1322.2L1844.8 1366.2zM1834.3 1348.2L1864.0 1326.2L1864.0 1370.2zM1853.6 1351.7L1883.3 1329.7L1883.3 1373.7zM1872.9 1354.5L1902.6 1332.5L1902.6 1376.5zM1892.2 1357.4L1921.9 1335.4L1921.9 1379.4zM1911.4 1360.2L1941.1 1338.2L1941.1 1382.2zM1930.7 1363.1L1960.4 1341.1L1960.4 1385.1zM1950.0 1367.0L1979.7 1345.0L1979.7 1389.0zM1969.2 1371.6L1999.0 1349.6L1999.0 1393.6zM1988.5 1339.7L2018.2 1317.7L2018.2 1361.7zM2007.8 1265.1L2037.5 1243.1L2037.5 1287.1zM2027.1 1312.3L2056.8 1290.3L2056.8 1334.3zM2046.4 1321.1L2076.1 1299.1L2076.1 1343.1zM2065.6 1331.3L2095.3 1309.3L2095.3 1353.3zM2084.9 1346.1L2114.6 1324.1L2114.6 1368.1zM2104.2 1359.1L2133.9 1337.1L2133.9 1381.1zM2123.4 1376.2L2153.2 1354.2L2153.2 1398.2zM2142.7 1388.3L2172.4 1366.3L2172.4 1410.3zM2162.0 1395.0L2191.7 1373.0L2191.7 1417.0zM2181.3 1401.7L2211.0 1379.7L2211.0 1423.7zM2200.5 1401.8L2230.2 1379.8L2230.2 1423.8zM2219.8 1402.0L2249.5 1380.0L2249.5 1424.0zM2239.1 1402.1L2268.8 1380.1L2268.8 1424.1zM2258.4 1402.2L2288.1 1380.2L2288.1 1424.2zM2277.6 1402.4L2307.3 1380.4L2307.3 1424.4zM2296.9 1402.5L2326.6 1380.5L2326.6 1424.5zM2316.2 1402.6L2345.9 1380.6L2345.9 1424.6z" fill="#ff6600"/>
<path d="M408.5 1429.5L427.8 1429.5L447.1 1429.5L466.3 1429.5L485.6 1429.5L504.9 1429.5L524.1 1429.5L543.4 1429.5L562.7 1429.5L582.0 1429.5L601.2 1429.5L620.5 1429.5L639.8 1429.5L659.1 1428.6L678.4 1427.6L697.6 1426.7L716.9 1425.8L736.2 1425.0L755.5 1424.2L774.7 1423.4L794.0 1422.6L813.3 1422.1L832.5 1421.6L851.8 1421.2L871.1 1420.7L890.4 1420.2L909.6 1419.8L928.9 1419.6L948.2 1419.4L967.5 1419.2L986.8 1419.0L1006.0 1418.7L1025.3 1418.5L1044.6 1418.3L1063.8 1418.1L1083.1 1417.9L1102.4 1416.4L1121.7 1414.8L1141.0 1413.3L1160.2 1413.1L1179.5 1412.8L1198.8 1412.6L1218.0 1412.4L1237.3 1412.1L1256.6 1411.9L1275.9 1411.7L1295.2 1411.4L1314.4 1411.2L1333.7 1411.0L1353.0 1313.7L1372.2 1327.6L1391.5 1336.9L1410.8 1341.5L1430.1 1338.7L1449.3 1344.3L1468.6 1352.6L1487.9 1354.5L1507.2 1367.9L1526.5 1373.2L1545.7 1378.6L1565.0 1381.6L1584.3 1384.7L1603.5 1387.8L1622.8 1388.1L1642.1 1388.3L1661.4 1388.5L1680.7 1388.7L1699.9 1389.0L1719.2 1389.2L1738.5 1389.4L1757.8 1389.7L1777.0 1389.9L1796.3 1390.1L1815.6 1393.0L1834.8 1395.9L1854.1 1398.8L1873.4 1401.7L1892.7 1401.7L1912.0 1401.7L1931.2 1401.7L1950.5 1401.7L1969.8 1401.7L1989.0 1401.7L2008.3 1401.7L2027.6 1401.7L2046.9 1401.7L2066.2 1401.7L2085.4 1401.7L2104.7 1401.7L2124.0 1401.7L2143.2 1401.7L2162.5 1401.7L2181.8 1401.7L2201.1 1401.7L2220.3 1401.7L2239.6 1401.7L2258.9 1401.7L2278.2 1401.7L2297.4 1401.7L2316.7 1401.7L2336.0 1401.7" fill="none" stroke="#4299d0" stroke-width="11.7" stroke-linejoin="bevel"/>
<path d="M428.3 1429.5L398.6 1407.5L398.6 1451.5zM447.6 1429.5L417.9 1407.5L417.9 1451.5zM466.9 1429.5L437.2 1407.5L437.2 1451.5zM486.1 1429.5L456.4 1407.5L456.4 1451.5zM505.4 1429.5L475.7 1407.5L475.7 1451.5zM524.7 1429.5L495.0 1407.5L495.0 1451.5zM543.9 1429.5L514.2 1407.5L514.2 1451.5zM563.2 1429.5L533.5 1407.5L533.5 1451.5zM582.5 1429.5L552.8 1407.5L552.8 1451.5zM601.8 1429.5L572.1 1407.5L572.1 1451.5zM621.0 1429.5L591.4 1407.5L591.4 1451.5zM640.3 1429.5L610.6 1407.5L610.6 1451.5zM659.6 1429.5L629.9 1407.5L629.9 1451.5zM678.9 1428.6L649.2 1406.6L649.2 1450.6zM698.1 1427.6L668.5 1405.6L668.5 1449.6zM717.4 1426.7L687.7 1404.7L687.7 1448.7zM736.7 1425.8L707.0 1403.8L707.0 1447.8zM756.0 1425.0L726.3 1403.0L726.3 1447.0zM775.2 1424.2L745.6 1402.2L745.6 1446.2zM794.5 1423.4L764.8 1401.4L764.8 1445.4zM813.8 1422.6L784.1 1400.6L784.1 1444.6zM833.1 1422.1L803.4 1400.1L803.4 1444.1zM852.3 1421.6L822.6 1399.6L822.6 1443.6zM871.6 1421.2L841.9 1399.2L841.9 1443.2zM890.9 1420.7L861.2 1398.7L861.2 1442.7zM910.2 1420.2L880.5 1398.2L880.5 1442.2zM929.4 1419.8L899.8 1397.8L899.8 1441.8zM948.7 1419.6L919.0 1397.6L919.0 1441.6zM968.0 1419.4L938.3 1397.4L938.3 1441.4zM987.3 1419.2L957.6 1397.2L957.6 1441.2zM1006.5 1419.0L976.9 1397.0L976.9 1441.0zM1025.8 1418.7L996.1 1396.7L996.1 1440.7zM1045.1 1418.5L1015.4 1396.5L1015.4 1440.5zM1064.4 1418.3L1034.7 1396.3L1034.7 1440.3zM1083.6 1418.1L1053.9 1396.1L1053.9 1440.1zM1102.9 1417.9L1073.2 1395.9L1073.2 1439.9zM1122.2 1416.4L1092.5 1394.4L1092.5 1438.4zM1141.5 1414.8L1111.8 1392.8L1111.8 1436.8zM1160.8 1413.3L1131.0 1391.3L1131.0 1435.3zM1180.0 1413.1L1150.3 1391.1L1150.3 1435.1zM1199.3 1412.8L1169.6 1390.8L1169.6 1434.8zM1218.6 1412.6L1188.9 1390.6L1188.9 1434.6zM1237.8 1412.4L1208.1 1390.4L1208.1 1434.4zM1257.1 1412.1L1227.4 1390.1L1227.4 1434.1zM1276.4 1411.9L1246.7 1389.9L1246.7 1433.9zM1295.7 1411.7L1266.0 1389.7L1266.0 1433.7zM1315.0 1411.4L1285.2 1389.4L1285.2 1433.4zM1334.2 1411.2L1304.5 1389.2L1304.5 1433.2zM1353.5 1411.0L1323.8 1389.0L1323.8 1433.0zM1372.8 1313.7L1343.1 1291.7L1343.1 1335.7zM1392.0 1327.6L1362.3 1305.6L1362.3 1349.6zM1411.3 1336.9L1381.6 1314.9L1381.6 1358.9zM1430.6 1341.5L1400.9 1319.5L1400.9 1363.5zM1449.9 1338.7L1420.2 1316.7L1420.2 1360.7zM1469.1 1344.3L1439.4 1322.3L1439.4 1366.3zM1488.4 1352.6L1458.7 1330.6L1458.7 1374.6zM1507.7 1354.5L1478.0 1332.5L1478.0 1376.5zM1527.0 1367.9L1497.3 1345.9L1497.3 1389.9zM1546.2 1373.2L1516.5 1351.2L1516.5 1395.2zM1565.5 1378.6L1535.8 1356.6L1535.8 1400.6zM1584.8 1381.6L1555.1 1359.6L1555.1 1403.6zM1604.1 1384.7L1574.4 1362.7L1574.4 1406.7zM1623.3 1387.8L1593.6 1365.8L1593.6 1409.8zM1642.6 1388.1L1612.9 1366.1L1612.9 1410.1zM1661.9 1388.3L1632.2 1366.3L1632.2 1410.3zM1681.2 1388.5L1651.5 1366.5L1651.5 1410.5zM1700.5 1388.7L1670.8 1366.7L1670.8 1410.7zM1719.7 1389.0L1690.0 1367.0L1690.0 1411.0zM1739.0 1389.2L1709.3 1367.2L1709.3 1411.2zM1758.3 1389.4L1728.6 1367.4L1728.6 1411.4zM1777.5 1389.7L1747.8 1367.7L1747.8 1411.7zM1796.8 1389.9L1767.1 1367.9L1767.1 1411.9zM1816.1 1390.1L1786.4 1368.1L1786.4 1412.1zM1835.4 1393.0L1805.7 1371.0L1805.7 1415.0zM1854.6 1395.9L1824.9 1373.9L1824.9 1417.9zM1873.9 1398.8L1844.2 1376.8L1844.2 1420.8zM1893.2 1401.7L1863.5 1379.7L1863.5 1423.7zM1912.5 1401.7L1882.8 1379.7L1882.8 1423.7zM1931.8 1401.7L1902.0 1379.7L1902.0 1423.7zM1951.0 1401.7L1921.3 1379.7L1921.3 1423.7zM1970.3 1401.7L1940.6 1379.7L1940.6 1423.7zM1989.6 1401.7L1959.9 1379.7L1959.9 1423.7zM2008.8 1401.7L1979.1 1379.7L1979.1 1423.7zM2028.1 1401.7L1998.4 1379.7L1998.4 1423.7zM2047.4 1401.7L2017.7 1379.7L2017.7 1423.7zM2066.7 1401.7L2037.0 1379.7L2037.0 1423.7zM2086.0 1401.7L2056.2 1379.7L2056.2 1423.7zM2105.2 1401.7L2075.5 1379.7L2075.5 1423.7zM2124.5 1401.7L2094.8 1379.7L2094.8 1423.7zM2143.8 1401.7L2114.1 1379.7L2114.1 1423.7zM2163.1 1401.7L2133.3 1379.7L2133.3 1423.7zM2182.3 1401.7L2152.6 1379.7L2152.6 1423.7zM2201.6 1401.7L2171.9 1379.7L2171.9 1423.7zM2220.9 1401.7L2191.2 1379.7L2191.2 1423.7zM2240.2 1401.7L2210.4 1379.7L2210.4 1423.7zM2259.4 1401.7L2229.7 1379.7L2229.7 1423.7zM2278.7 1401.7L2249.0 1379.7L2249.0 1423.7zM2298.0 1401.7L2268.3 1379.7L2268.3 1423.7zM2317.2 1401.7L2287.5 1379.7L2287.5 1423.7zM2336.5 1401.7L2306.8 1379.7L2306.8 1423.7zM2355.8 1401.7L2326.1 1379.7L2326.1 1423.7z" fill="#4299d0"/>
<path d="M408.5 1425.8L427.8 1425.7L447.1 1425.7L466.3 1425.6L485.6 1425.6L504.9 1425.5L524.1 1425.4L543.4 1425.4L562.7 1425.3L582.0 1425.3L601.2 1425.2L620.5 1425.2L639.8 1425.1L659.1 1425.0L678.4 1425.0L697.6 1424.9L716.9 1424.9L736.2 1421.2L755.5 1413.3L774.7 1402.6L794.0 1393.4L813.3 1384.1L832.5 1374.9L851.8 1365.6L871.1 1353.1L890.4 1341.5L909.6 1334.6L928.9 1329.4L948.2 1324.2L967.5 1319.9L986.8 1317.0L1006.0 1315.7L1025.3 1314.5L1044.6 1313.2L1063.8 1310.1L1083.1 1306.1L1102.4 1302.0L1121.7 1298.0L1141.0 1303.4L1160.2 1308.8L1179.5 1314.2L1198.8 1334.2L1218.0 1354.2L1237.3 1366.4L1256.6 1370.9L1275.9 1375.3L1295.2 1381.8L1314.4 1388.3L1333.7 1390.6L1353.0 1392.9L1372.2 1394.3L1391.5 1395.7L1410.8 1396.6L1430.1 1397.5L1449.3 1398.5L1468.6 1399.4L1487.9 1400.3L1507.2 1401.3L1526.5 1404.0L1545.7 1406.8L1565.0 1407.6L1584.3 1408.4L1603.5 1409.2L1622.8 1410.0L1642.1 1410.8L1661.4 1411.6L1680.7 1412.4L1699.9 1413.2L1719.2 1414.0L1738.5 1414.8L1757.8 1415.6L1777.0 1416.3L1796.3 1417.0L1815.6 1417.7L1834.8 1418.4L1854.1 1419.1L1873.4 1419.8L1892.7 1420.5L1912.0 1421.2L1931.2 1421.9L1950.5 1422.6L1969.8 1423.2L1989.0 1423.9L2008.3 1424.6L2027.6 1425.3L2046.9 1426.0L2066.2 1426.7L2085.4 1427.4L2104.7 1428.1L2124.0 1428.8L2143.2 1429.5L2162.5 1429.7L2181.8 1430.0L2201.1 1430.2L2220.3 1430.4L2239.6 1430.7L2258.9 1430.9L2278.2 1431.1L2297.4 1431.4L2316.7 1431.6L2336.0 1431.8" fill="none" stroke="#33b500" stroke-width="11.7" stroke-linejoin="bevel"/>
<path d="M408.5 1405.3L425.5 1415.5L425.5 1436.0L408.5 1446.3L391.5 1436.0L391.5 1415.5zM427.8 1405.2L444.8 1415.5L444.8 1436.0L427.8 1446.2L410.8 1436.0L410.8 1415.5zM447.1 1405.2L464.1 1415.4L464.1 1435.9L447.1 1446.2L430.1 1435.9L430.1 1415.4zM466.3 1405.1L483.3 1415.4L483.3 1435.9L466.3 1446.1L449.3 1435.9L449.3 1415.4zM485.6 1405.1L502.6 1415.3L502.6 1435.8L485.6 1446.1L468.6 1435.8L468.6 1415.3zM504.9 1405.0L521.9 1415.3L521.9 1435.8L504.9 1446.0L487.9 1435.8L487.9 1415.3zM524.1 1404.9L541.1 1415.2L541.1 1435.7L524.1 1445.9L507.1 1435.7L507.1 1415.2zM543.4 1404.9L560.4 1415.1L560.4 1435.6L543.4 1445.9L526.4 1435.6L526.4 1415.1zM562.7 1404.8L579.7 1415.1L579.7 1435.6L562.7 1445.8L545.7 1435.6L545.7 1415.1zM582.0 1404.8L599.0 1415.0L599.0 1435.5L582.0 1445.8L565.0 1435.5L565.0 1415.0zM601.2 1404.7L618.2 1415.0L618.2 1435.5L601.2 1445.7L584.2 1435.5L584.2 1415.0zM620.5 1404.7L637.5 1414.9L637.5 1435.4L620.5 1445.7L603.5 1435.4L603.5 1414.9zM639.8 1404.6L656.8 1414.9L656.8 1435.4L639.8 1445.6L622.8 1435.4L622.8 1414.9zM659.1 1404.5L676.1 1414.8L676.1 1435.3L659.1 1445.5L642.1 1435.3L642.1 1414.8zM678.4 1404.5L695.4 1414.7L695.4 1435.2L678.4 1445.5L661.4 1435.2L661.4 1414.7zM697.6 1404.4L714.6 1414.7L714.6 1435.2L697.6 1445.4L680.6 1435.2L680.6 1414.7zM716.9 1404.4L733.9 1414.6L733.9 1435.1L716.9 1445.4L699.9 1435.1L699.9 1414.6zM736.2 1400.7L753.2 1410.9L753.2 1431.4L736.2 1441.7L719.2 1431.4L719.2 1410.9zM755.5 1392.8L772.5 1403.0L772.5 1423.5L755.5 1433.8L738.5 1423.5L738.5 1403.0zM774.7 1382.1L791.7 1392.4L791.7 1412.9L774.7 1423.1L757.7 1412.9L757.7 1392.4zM794.0 1372.9L811.0 1383.1L811.0 1403.6L794.0 1413.9L777.0 1403.6L777.0 1383.1zM813.3 1363.6L830.3 1373.9L830.3 1394.4L813.3 1404.6L796.3 1394.4L796.3 1373.9zM832.5 1354.4L849.5 1364.6L849.5 1385.1L832.5 1395.4L815.5 1385.1L815.5 1364.6zM851.8 1345.1L868.8 1355.3L868.8 1375.8L851.8 1386.1L834.8 1375.8L834.8 1355.3zM871.1 1332.6L888.1 1342.8L888.1 1363.3L871.1 1373.6L854.1 1363.3L854.1 1342.8zM890.4 1321.0L907.4 1331.3L907.4 1351.8L890.4 1362.0L873.4 1351.8L873.4 1331.3zM909.6 1314.1L926.6 1324.3L926.6 1344.8L909.6 1355.1L892.6 1344.8L892.6 1324.3zM928.9 1308.9L945.9 1319.2L945.9 1339.7L928.9 1349.9L911.9 1339.7L911.9 1319.2zM948.2 1303.7L965.2 1314.0L965.2 1334.5L948.2 1344.7L931.2 1334.5L931.2 1314.0zM967.5 1299.4L984.5 1309.7L984.5 1330.2L967.5 1340.4L950.5 1330.2L950.5 1309.7zM986.8 1296.5L1003.8 1306.7L1003.8 1327.2L986.8 1337.5L969.8 1327.2L969.8 1306.7zM1006.0 1295.2L1023.0 1305.5L1023.0 1326.0L1006.0 1336.2L989.0 1326.0L989.0 1305.5zM1025.3 1294.0L1042.3 1304.2L1042.3 1324.7L1025.3 1335.0L1008.3 1324.7L1008.3 1304.2zM1044.6 1292.7L1061.6 1303.0L1061.6 1323.5L1044.6 1333.7L1027.6 1323.5L1027.6 1303.0zM1063.8 1289.6L1080.8 1299.9L1080.8 1320.4L1063.8 1330.6L1046.8 1320.4L1046.8 1299.9zM1083.1 1285.6L1100.1 1295.8L1100.1 1316.3L1083.1 1326.6L1066.1 1316.3L1066.1 1295.8zM1102.4 1281.5L1119.4 1291.8L1119.4 1312.3L1102.4 1322.5L1085.4 1312.3L1085.4 1291.8zM1121.7 1277.5L1138.7 1287.7L1138.7 1308.2L1121.7 1318.5L1104.7 1308.2L1104.7 1287.7zM1141.0 1282.9L1158.0 1293.1L1158.0 1313.6L1141.0 1323.9L1124.0 1313.6L1124.0 1293.1zM1160.2 1288.3L1177.2 1298.5L1177.2 1319.0L1160.2 1329.3L1143.2 1319.0L1143.2 1298.5zM1179.5 1293.7L1196.5 1303.9L1196.5 1324.4L1179.5 1334.7L1162.5 1324.4L1162.5 1303.9zM1198.8 1313.7L1215.8 1323.9L1215.8 1344.4L1198.8 1354.7L1181.8 1344.4L1181.8 1323.9zM1218.0 1333.7L1235.0 1344.0L1235.0 1364.5L1218.0 1374.7L1201.0 1364.5L1201.0 1344.0zM1237.3 1345.9L1254.3 1356.2L1254.3 1376.7L1237.3 1386.9L1220.3 1376.7L1220.3 1356.2zM1256.6 1350.4L1273.6 1360.6L1273.6 1381.1L1256.6 1391.4L1239.6 1381.1L1239.6 1360.6zM1275.9 1354.8L1292.9 1365.1L1292.9 1385.6L1275.9 1395.8L1258.9 1385.6L1258.9 1365.1zM1295.2 1361.3L1312.2 1371.6L1312.2 1392.1L1295.2 1402.3L1278.2 1392.1L1278.2 1371.6zM1314.4 1367.8L1331.4 1378.0L1331.4 1398.5L1314.4 1408.8L1297.4 1398.5L1297.4 1378.0zM1333.7 1370.1L1350.7 1380.4L1350.7 1400.9L1333.7 1411.1L1316.7 1400.9L1316.7 1380.4zM1353.0 1372.4L1370.0 1382.7L1370.0 1403.2L1353.0 1413.4L1336.0 1403.2L1336.0 1382.7zM1372.2 1373.8L1389.2 1384.1L1389.2 1404.6L1372.2 1414.8L1355.2 1404.6L1355.2 1384.1zM1391.5 1375.2L1408.5 1385.4L1408.5 1405.9L1391.5 1416.2L1374.5 1405.9L1374.5 1385.4zM1410.8 1376.1L1427.8 1386.4L1427.8 1406.9L1410.8 1417.1L1393.8 1406.9L1393.8 1386.4zM1430.1 1377.0L1447.1 1387.3L1447.1 1407.8L1430.1 1418.0L1413.1 1407.8L1413.1 1387.3zM1449.3 1378.0L1466.3 1388.2L1466.3 1408.7L1449.3 1419.0L1432.3 1408.7L1432.3 1388.2zM1468.6 1378.9L1485.6 1389.2L1485.6 1409.7L1468.6 1419.9L1451.6 1409.7L1451.6 1389.2zM1487.9 1379.8L1504.9 1390.1L1504.9 1410.6L1487.9 1420.8L1470.9 1410.6L1470.9 1390.1zM1507.2 1380.8L1524.2 1391.0L1524.2 1411.5L1507.2 1421.8L1490.2 1411.5L1490.2 1391.0zM1526.5 1383.5L1543.5 1393.8L1543.5 1414.3L1526.5 1424.5L1509.5 1414.3L1509.5 1393.8zM1545.7 1386.3L1562.7 1396.6L1562.7 1417.1L1545.7 1427.3L1528.7 1417.1L1528.7 1396.6zM1565.0 1387.1L1582.0 1397.4L1582.0 1417.9L1565.0 1428.1L1548.0 1417.9L1548.0 1397.4zM1584.3 1387.9L1601.3 1398.2L1601.3 1418.7L1584.3 1428.9L1567.3 1418.7L1567.3 1398.2zM1603.5 1388.7L1620.5 1399.0L1620.5 1419.5L1603.5 1429.7L1586.5 1419.5L1586.5 1399.0zM1622.8 1389.5L1639.8 1399.8L1639.8 1420.3L1622.8 1430.5L1605.8 1420.3L1605.8 1399.8zM1642.1 1390.3L1659.1 1400.6L1659.1 1421.1L1642.1 1431.3L1625.1 1421.1L1625.1 1400.6zM1661.4 1391.1L1678.4 1401.4L1678.4 1421.9L1661.4 1432.1L1644.4 1421.9L1644.4 1401.4zM1680.7 1391.9L1697.7 1402.2L1697.7 1422.7L1680.7 1432.9L1663.7 1422.7L1663.7 1402.2zM1699.9 1392.7L1716.9 1403.0L1716.9 1423.5L1699.9 1433.7L1682.9 1423.5L1682.9 1403.0zM1719.2 1393.5L1736.2 1403.8L1736.2 1424.3L1719.2 1434.5L1702.2 1424.3L1702.2 1403.8zM1738.5 1394.3L1755.5 1404.6L1755.5 1425.1L1738.5 1435.3L1721.5 1425.1L1721.5 1404.6zM1757.8 1395.1L1774.8 1405.4L1774.8 1425.9L1757.8 1436.1L1740.8 1425.9L1740.8 1405.4zM1777.0 1395.8L1794.0 1406.1L1794.0 1426.6L1777.0 1436.8L1760.0 1426.6L1760.0 1406.1zM1796.3 1396.5L1813.3 1406.7L1813.3 1427.2L1796.3 1437.5L1779.3 1427.2L1779.3 1406.7zM1815.6 1397.2L1832.6 1407.4L1832.6 1427.9L1815.6 1438.2L1798.6 1427.9L1798.6 1407.4zM1834.8 1397.9L1851.8 1408.1L1851.8 1428.6L1834.8 1438.9L1817.8 1428.6L1817.8 1408.1zM1854.1 1398.6L1871.1 1408.8L1871.1 1429.3L1854.1 1439.6L1837.1 1429.3L1837.1 1408.8zM1873.4 1399.3L1890.4 1409.5L1890.4 1430.0L1873.4 1440.3L1856.4 1430.0L1856.4 1409.5zM1892.7 1400.0L1909.7 1410.2L1909.7 1430.7L1892.7 1441.0L1875.7 1430.7L1875.7 1410.2zM1912.0 1400.7L1929.0 1410.9L1929.0 1431.4L1912.0 1441.7L1895.0 1431.4L1895.0 1410.9zM1931.2 1401.4L1948.2 1411.6L1948.2 1432.1L1931.2 1442.4L1914.2 1432.1L1914.2 1411.6zM1950.5 1402.1L1967.5 1412.3L1967.5 1432.8L1950.5 1443.1L1933.5 1432.8L1933.5 1412.3zM1969.8 1402.7L1986.8 1413.0L1986.8 1433.5L1969.8 1443.7L1952.8 1433.5L1952.8 1413.0zM1989.0 1403.4L2006.0 1413.7L2006.0 1434.2L1989.0 1444.4L1972.0 1434.2L1972.0 1413.7zM2008.3 1404.1L2025.3 1414.4L2025.3 1434.9L2008.3 1445.1L1991.3 1434.9L1991.3 1414.4zM2027.6 1404.8L2044.6 1415.1L2044.6 1435.6L2027.6 1445.8L2010.6 1435.6L2010.6 1415.1zM2046.9 1405.5L2063.9 1415.8L2063.9 1436.3L2046.9 1446.5L2029.9 1436.3L2029.9 1415.8zM2066.2 1406.2L2083.2 1416.5L2083.2 1437.0L2066.2 1447.2L2049.2 1437.0L2049.2 1416.5zM2085.4 1406.9L2102.4 1417.2L2102.4 1437.7L2085.4 1447.9L2068.4 1437.7L2068.4 1417.2zM2104.7 1407.6L2121.7 1417.9L2121.7 1438.4L2104.7 1448.6L2087.7 1438.4L2087.7 1417.9zM2124.0 1408.3L2141.0 1418.6L2141.0 1439.1L2124.0 1449.3L2107.0 1439.1L2107.0 1418.6zM2143.2 1409.0L2160.2 1419.2L2160.2 1439.8L2143.2 1450.0L2126.2 1439.8L2126.2 1419.2zM2162.5 1409.2L2179.5 1419.5L2179.5 1440.0L2162.5 1450.2L2145.5 1440.0L2145.5 1419.5zM2181.8 1409.5L2198.8 1419.7L2198.8 1440.2L2181.8 1450.5L2164.8 1440.2L2164.8 1419.7zM2201.1 1409.7L2218.1 1419.9L2218.1 1440.4L2201.1 1450.7L2184.1 1440.4L2184.1 1419.9zM2220.3 1409.9L2237.3 1420.2L2237.3 1440.7L2220.3 1450.9L2203.3 1440.7L2203.3 1420.2zM2239.6 1410.2L2256.6 1420.4L2256.6 1440.9L2239.6 1451.2L2222.6 1440.9L2222.6 1420.4zM2258.9 1410.4L2275.9 1420.6L2275.9 1441.1L2258.9 1451.4L2241.9 1441.1L2241.9 1420.6zM2278.2 1410.6L2295.2 1420.9L2295.2 1441.4L2278.2 1451.6L2261.2 1441.4L2261.2 1420.9zM2297.4 1410.9L2314.4 1421.1L2314.4 1441.6L2297.4 1451.9L2280.4 1441.6L2280.4 1421.1zM2316.7 1411.1L2333.7 1421.3L2333.7 1441.8L2316.7 1452.1L2299.7 1441.8L2299.7 1421.3zM2336.0 1411.3L2353.0 1421.6L2353.0 1442.1L2336.0 1452.3L2319.0 1442.1L2319.0 1421.6z" fill="#33b500"/>
<path d="M408.5 1429.5L427.8 1429.4L447.1 1429.3L466.3 1429.2L485.6 1429.1L504.9 1429.0L524.1 1428.9L543.4 1428.9L562.7 1428.8L582.0 1428.7L601.2 1428.6L620.5 1427.4L639.8 1426.2L659.1 1425.0L678.4 1423.8L697.6 1422.7L716.9 1421.5L736.2 1420.3L755.5 1419.1L774.7 1417.9L794.0 1415.6L813.3 1413.3L832.5 1411.0L851.8 1408.7L871.1 1406.3L890.4 1404.0L909.6 1404.0L928.9 1404.0L948.2 1404.0L967.5 1404.0L986.8 1404.0L1006.0 1403.8L1025.3 1403.6L1044.6 1403.3L1063.8 1403.1L1083.1 1375.3L1102.4 1350.8L1121.7 1341.1L1141.0 1341.3L1160.2 1341.5L1179.5 1343.4L1198.8 1348.9L1218.0 1340.1L1237.3 1331.3L1256.6 1327.6L1275.9 1326.7L1295.2 1329.5L1314.4 1336.9L1333.7 1347.1L1353.0 1357.3L1372.2 1358.2L1391.5 1359.1L1410.8 1359.1L1430.1 1359.1L1449.3 1360.5L1468.6 1361.9L1487.9 1365.1L1507.2 1368.4L1526.5 1372.5L1545.7 1376.7L1565.0 1378.6L1584.3 1379.5L1603.5 1380.4L1622.8 1381.3L1642.1 1382.2L1661.4 1383.1L1680.7 1384.0L1699.9 1384.9L1719.2 1385.8L1738.5 1386.7L1757.8 1387.6L1777.0 1388.5L1796.3 1389.4L1815.6 1390.3L1834.8 1391.2L1854.1 1392.1L1873.4 1393.0L1892.7 1393.9L1912.0 1394.8L1931.2 1395.3L1950.5 1395.8L1969.8 1396.3L1989.0 1396.9L2008.3 1397.4L2027.6 1397.9L2046.9 1398.5L2066.2 1399.0L2085.4 1399.5L2104.7 1400.0L2124.0 1400.6L2143.2 1401.1L2162.5 1401.6L2181.8 1402.1L2201.1 1402.7L2220.3 1403.2L2239.6 1403.7L2258.9 1404.2L2278.2 1404.8L2297.4 1405.3L2316.7 1405.8L2336.0 1406.3" fill="none" stroke="#787878" stroke-width="11.7" stroke-linejoin="bevel"/>
<path d="M408.5 1408.5L413.8 1422.2L428.5 1423.0L417.1 1432.3L420.8 1446.5L408.5 1438.5L396.2 1446.5L399.9 1432.3L388.5 1423.0L403.2 1422.2zM427.8 1408.4L433.1 1422.1L447.7 1422.9L436.3 1432.2L440.1 1446.4L427.8 1438.4L415.4 1446.4L419.2 1432.2L407.8 1422.9L422.5 1422.1zM447.1 1408.3L452.3 1422.0L467.0 1422.8L455.6 1432.1L459.4 1446.3L447.1 1438.3L434.7 1446.3L438.5 1432.1L427.1 1422.8L441.8 1422.0zM466.3 1408.2L471.6 1421.9L486.3 1422.7L474.9 1432.0L478.7 1446.2L466.3 1438.2L454.0 1446.2L457.8 1432.0L446.4 1422.7L461.0 1421.9zM485.6 1408.1L490.9 1421.8L505.6 1422.6L494.2 1431.9L497.9 1446.1L485.6 1438.1L473.3 1446.1L477.0 1431.9L465.6 1422.6L480.3 1421.8zM504.9 1408.0L510.2 1421.8L524.8 1422.5L513.4 1431.8L517.2 1446.0L504.9 1438.0L492.5 1446.0L496.3 1431.8L484.9 1422.5L499.6 1421.8zM524.1 1407.9L529.4 1421.7L544.1 1422.5L532.7 1431.7L536.5 1445.9L524.1 1437.9L511.8 1445.9L515.6 1431.7L504.2 1422.5L518.9 1421.7zM543.4 1407.9L548.7 1421.6L563.4 1422.4L552.0 1431.6L555.8 1445.8L543.4 1437.9L531.1 1445.8L534.9 1431.6L523.5 1422.4L538.1 1421.6zM562.7 1407.8L568.0 1421.5L582.7 1422.3L571.3 1431.5L575.0 1445.7L562.7 1437.8L550.4 1445.7L554.1 1431.5L542.7 1422.3L557.4 1421.5zM582.0 1407.7L587.3 1421.4L601.9 1422.2L590.5 1431.4L594.3 1445.7L582.0 1437.7L569.6 1445.7L573.4 1431.4L562.0 1422.2L576.7 1421.4zM601.2 1407.6L606.5 1421.3L621.2 1422.1L609.8 1431.4L613.6 1445.6L601.2 1437.6L588.9 1445.6L592.7 1431.4L581.3 1422.1L596.0 1421.3zM620.5 1406.4L625.8 1420.1L640.5 1420.9L629.1 1430.2L632.9 1444.4L620.5 1436.4L608.2 1444.4L612.0 1430.2L600.6 1420.9L615.2 1420.1zM639.8 1405.2L645.1 1418.9L659.8 1419.7L648.4 1429.0L652.1 1443.2L639.8 1435.2L627.5 1443.2L631.2 1429.0L619.8 1419.7L634.5 1418.9zM659.1 1404.0L664.4 1417.7L679.0 1418.5L667.6 1427.8L671.4 1442.0L659.1 1434.0L646.7 1442.0L650.5 1427.8L639.1 1418.5L653.8 1417.7zM678.4 1402.8L683.6 1416.6L698.3 1417.4L686.9 1426.6L690.7 1440.8L678.4 1432.8L666.0 1440.8L669.8 1426.6L658.4 1417.4L673.1 1416.6zM697.6 1401.7L702.9 1415.4L717.6 1416.2L706.2 1425.4L710.0 1439.6L697.6 1431.7L685.3 1439.6L689.1 1425.4L677.7 1416.2L692.3 1415.4zM716.9 1400.5L722.2 1414.2L736.9 1415.0L725.5 1424.3L729.2 1438.5L716.9 1430.5L704.6 1438.5L708.3 1424.3L696.9 1415.0L711.6 1414.2zM736.2 1399.3L741.5 1413.0L756.1 1413.8L744.7 1423.1L748.5 1437.3L736.2 1429.3L723.8 1437.3L727.6 1423.1L716.2 1413.8L730.9 1413.0zM755.5 1398.1L760.7 1411.8L775.4 1412.6L764.0 1421.9L767.8 1436.1L755.5 1428.1L743.1 1436.1L746.9 1421.9L735.5 1412.6L750.2 1411.8zM774.7 1396.9L780.0 1410.6L794.7 1411.4L783.3 1420.7L787.1 1434.9L774.7 1426.9L762.4 1434.9L766.2 1420.7L754.8 1411.4L769.4 1410.6zM794.0 1394.6L799.3 1408.3L814.0 1409.1L802.6 1418.4L806.3 1432.6L794.0 1424.6L781.7 1432.6L785.4 1418.4L774.0 1409.1L788.7 1408.3zM813.3 1392.3L818.6 1406.0L833.2 1406.8L821.8 1416.1L825.6 1430.3L813.3 1422.3L800.9 1430.3L804.7 1416.1L793.3 1406.8L808.0 1406.0zM832.5 1390.0L837.8 1403.7L852.5 1404.5L841.1 1413.8L844.9 1428.0L832.5 1420.0L820.2 1428.0L824.0 1413.8L812.6 1404.5L827.3 1403.7zM851.8 1387.7L857.1 1401.4L871.8 1402.2L860.4 1411.4L864.2 1425.7L851.8 1417.7L839.5 1425.7L843.3 1411.4L831.9 1402.2L846.5 1401.4zM871.1 1385.3L876.4 1399.1L891.1 1399.9L879.7 1409.1L883.4 1423.3L871.1 1415.3L858.8 1423.3L862.5 1409.1L851.1 1399.9L865.8 1399.1zM890.4 1383.0L895.7 1396.7L910.3 1397.5L898.9 1406.8L902.7 1421.0L890.4 1413.0L878.0 1421.0L881.8 1406.8L870.4 1397.5L885.1 1396.7zM909.6 1383.0L914.9 1396.7L929.6 1397.5L918.2 1406.8L922.0 1421.0L909.6 1413.0L897.3 1421.0L901.1 1406.8L889.7 1397.5L904.4 1396.7zM928.9 1383.0L934.2 1396.7L948.9 1397.5L937.5 1406.8L941.3 1421.0L928.9 1413.0L916.6 1421.0L920.4 1406.8L909.0 1397.5L923.6 1396.7zM948.2 1383.0L953.5 1396.7L968.2 1397.5L956.8 1406.8L960.5 1421.0L948.2 1413.0L935.9 1421.0L939.6 1406.8L928.2 1397.5L942.9 1396.7zM967.5 1383.0L972.8 1396.7L987.4 1397.5L976.0 1406.8L979.8 1421.0L967.5 1413.0L955.1 1421.0L958.9 1406.8L947.5 1397.5L962.2 1396.7zM986.8 1383.0L992.0 1396.7L1006.7 1397.5L995.3 1406.8L999.1 1421.0L986.8 1413.0L974.4 1421.0L978.2 1406.8L966.8 1397.5L981.5 1396.7zM1006.0 1382.8L1011.3 1396.5L1026.0 1397.3L1014.6 1406.6L1018.4 1420.8L1006.0 1412.8L993.7 1420.8L997.5 1406.6L986.1 1397.3L1000.7 1396.5zM1025.3 1382.6L1030.6 1396.3L1045.3 1397.1L1033.9 1406.3L1037.6 1420.6L1025.3 1412.6L1013.0 1420.6L1016.7 1406.3L1005.3 1397.1L1020.0 1396.3zM1044.6 1382.3L1049.9 1396.1L1064.5 1396.8L1053.1 1406.1L1056.9 1420.3L1044.6 1412.3L1032.2 1420.3L1036.0 1406.1L1024.6 1396.8L1039.3 1396.1zM1063.8 1382.1L1069.1 1395.8L1083.8 1396.6L1072.4 1405.9L1076.2 1420.1L1063.8 1412.1L1051.5 1420.1L1055.3 1405.9L1043.9 1396.6L1058.6 1395.8zM1083.1 1354.3L1088.4 1368.0L1103.1 1368.8L1091.7 1378.1L1095.5 1392.3L1083.1 1384.3L1070.8 1392.3L1074.6 1378.1L1063.2 1368.8L1077.8 1368.0zM1102.4 1329.8L1107.7 1343.5L1122.4 1344.3L1111.0 1353.6L1114.7 1367.8L1102.4 1359.8L1090.1 1367.8L1093.8 1353.6L1082.4 1344.3L1097.1 1343.5zM1121.7 1320.1L1127.0 1333.8L1141.6 1334.6L1130.2 1343.8L1134.0 1358.0L1121.7 1350.1L1109.3 1358.0L1113.1 1343.8L1101.7 1334.6L1116.4 1333.8zM1141.0 1320.3L1146.2 1334.0L1160.9 1334.8L1149.5 1344.1L1153.3 1358.3L1141.0 1350.3L1128.6 1358.3L1132.4 1344.1L1121.0 1334.8L1135.7 1334.0zM1160.2 1320.5L1165.5 1334.2L1180.2 1335.0L1168.8 1344.3L1172.6 1358.5L1160.2 1350.5L1147.9 1358.5L1151.7 1344.3L1140.3 1335.0L1154.9 1334.2zM1179.5 1322.4L1184.8 1336.1L1199.5 1336.9L1188.1 1346.1L1191.8 1360.4L1179.5 1352.4L1167.2 1360.4L1170.9 1346.1L1159.5 1336.9L1174.2 1336.1zM1198.8 1327.9L1204.1 1341.6L1218.7 1342.4L1207.3 1351.7L1211.1 1365.9L1198.8 1357.9L1186.4 1365.9L1190.2 1351.7L1178.8 1342.4L1193.5 1341.6zM1218.0 1319.1L1223.3 1332.8L1238.0 1333.6L1226.6 1342.9L1230.4 1357.1L1218.0 1349.1L1205.7 1357.1L1209.5 1342.9L1198.1 1333.6L1212.8 1332.8zM1237.3 1310.3L1242.6 1324.0L1257.3 1324.8L1245.9 1334.1L1249.7 1348.3L1237.3 1340.3L1225.0 1348.3L1228.8 1334.1L1217.4 1324.8L1232.0 1324.0zM1256.6 1306.6L1261.9 1320.3L1276.6 1321.1L1265.2 1330.4L1268.9 1344.6L1256.6 1336.6L1244.3 1344.6L1248.0 1330.4L1236.6 1321.1L1251.3 1320.3zM1275.9 1305.7L1281.2 1319.4L1295.8 1320.2L1284.4 1329.5L1288.2 1343.7L1275.9 1335.7L1263.5 1343.7L1267.3 1329.5L1255.9 1320.2L1270.6 1319.4zM1295.2 1308.5L1300.4 1322.2L1315.1 1323.0L1303.7 1332.3L1307.5 1346.5L1295.2 1338.5L1282.8 1346.5L1286.6 1332.3L1275.2 1323.0L1289.9 1322.2zM1314.4 1315.9L1319.7 1329.6L1334.4 1330.4L1323.0 1339.7L1326.8 1353.9L1314.4 1345.9L1302.1 1353.9L1305.9 1339.7L1294.5 1330.4L1309.1 1329.6zM1333.7 1326.1L1339.0 1339.8L1353.7 1340.6L1342.3 1349.9L1346.0 1364.1L1333.7 1356.1L1321.4 1364.1L1325.1 1349.9L1313.7 1340.6L1328.4 1339.8zM1353.0 1336.3L1358.3 1350.0L1372.9 1350.8L1361.5 1360.0L1365.3 1374.2L1353.0 1366.3L1340.6 1374.2L1344.4 1360.0L1333.0 1350.8L1347.7 1350.0zM1372.2 1337.2L1377.5 1350.9L1392.2 1351.7L1380.8 1361.0L1384.6 1375.2L1372.2 1367.2L1359.9 1375.2L1363.7 1361.0L1352.3 1351.7L1367.0 1350.9zM1391.5 1338.1L1396.8 1351.8L1411.5 1352.6L1400.1 1361.9L1403.9 1376.1L1391.5 1368.1L1379.2 1376.1L1383.0 1361.9L1371.6 1352.6L1386.2 1351.8zM1410.8 1338.1L1416.1 1351.8L1430.8 1352.6L1419.4 1361.9L1423.1 1376.1L1410.8 1368.1L1398.5 1376.1L1402.2 1361.9L1390.8 1352.6L1405.5 1351.8zM1430.1 1338.1L1435.4 1351.8L1450.0 1352.6L1438.6 1361.9L1442.4 1376.1L1430.1 1368.1L1417.7 1376.1L1421.5 1361.9L1410.1 1352.6L1424.8 1351.8zM1449.3 1339.5L1454.6 1353.2L1469.3 1354.0L1457.9 1363.3L1461.7 1377.5L1449.3 1369.5L1437.0 1377.5L1440.8 1363.3L1429.4 1354.0L1444.1 1353.2zM1468.6 1340.9L1473.9 1354.6L1488.6 1355.4L1477.2 1364.7L1481.0 1378.9L1468.6 1370.9L1456.3 1378.9L1460.1 1364.7L1448.7 1355.4L1463.3 1354.6zM1487.9 1344.1L1493.2 1357.9L1507.9 1358.6L1496.5 1367.9L1500.2 1382.1L1487.9 1374.1L1475.6 1382.1L1479.3 1367.9L1467.9 1358.6L1482.6 1357.9zM1507.2 1347.4L1512.5 1361.1L1527.1 1361.9L1515.7 1371.2L1519.5 1385.4L1507.2 1377.4L1494.8 1385.4L1498.6 1371.2L1487.2 1361.9L1501.9 1361.1zM1526.5 1351.5L1531.7 1365.3L1546.4 1366.1L1535.0 1375.3L1538.8 1389.5L1526.5 1381.5L1514.1 1389.5L1517.9 1375.3L1506.5 1366.1L1521.2 1365.3zM1545.7 1355.7L1551.0 1369.4L1565.7 1370.2L1554.3 1379.5L1558.1 1393.7L1545.7 1385.7L1533.4 1393.7L1537.2 1379.5L1525.8 1370.2L1540.4 1369.4zM1565.0 1357.6L1570.3 1371.3L1585.0 1372.1L1573.6 1381.3L1577.3 1395.6L1565.0 1387.6L1552.7 1395.6L1556.4 1381.3L1545.0 1372.1L1559.7 1371.3zM1584.3 1358.5L1589.6 1372.2L1604.2 1373.0L1592.8 1382.2L1596.6 1396.5L1584.3 1388.5L1571.9 1396.5L1575.7 1382.2L1564.3 1373.0L1579.0 1372.2zM1603.5 1359.4L1608.8 1373.1L1623.5 1373.9L1612.1 1383.1L1615.9 1397.4L1603.5 1389.4L1591.2 1397.4L1595.0 1383.1L1583.6 1373.9L1598.3 1373.1zM1622.8 1360.3L1628.1 1374.0L1642.8 1374.8L1631.4 1384.0L1635.2 1398.3L1622.8 1390.3L1610.5 1398.3L1614.3 1384.0L1602.9 1374.8L1617.5 1374.0zM1642.1 1361.2L1647.4 1374.9L1662.1 1375.7L1650.7 1384.9L1654.4 1399.2L1642.1 1391.2L1629.8 1399.2L1633.5 1384.9L1622.1 1375.7L1636.8 1374.9zM1661.4 1362.1L1666.7 1375.8L1681.3 1376.6L1669.9 1385.8L1673.7 1400.1L1661.4 1392.1L1649.0 1400.1L1652.8 1385.8L1641.4 1376.6L1656.1 1375.8zM1680.7 1363.0L1685.9 1376.7L1700.6 1377.5L1689.2 1386.7L1693.0 1401.0L1680.7 1393.0L1668.3 1401.0L1672.1 1386.7L1660.7 1377.5L1675.4 1376.7zM1699.9 1363.9L1705.2 1377.6L1719.9 1378.4L1708.5 1387.6L1712.3 1401.9L1699.9 1393.9L1687.6 1401.9L1691.4 1387.6L1680.0 1378.4L1694.6 1377.6zM1719.2 1364.8L1724.5 1378.5L1739.2 1379.3L1727.8 1388.5L1731.5 1402.8L1719.2 1394.8L1706.9 1402.8L1710.6 1388.5L1699.2 1379.3L1713.9 1378.5zM1738.5 1365.7L1743.8 1379.4L1758.4 1380.2L1747.0 1389.4L1750.8 1403.7L1738.5 1395.7L1726.1 1403.7L1729.9 1389.4L1718.5 1380.2L1733.2 1379.4zM1757.8 1366.6L1763.0 1380.3L1777.7 1381.1L1766.3 1390.3L1770.1 1404.6L1757.8 1396.6L1745.4 1404.6L1749.2 1390.3L1737.8 1381.1L1752.5 1380.3zM1777.0 1367.5L1782.3 1381.2L1797.0 1382.0L1785.6 1391.2L1789.4 1405.5L1777.0 1397.5L1764.7 1405.5L1768.5 1391.2L1757.1 1382.0L1771.7 1381.2zM1796.3 1368.4L1801.6 1382.1L1816.3 1382.9L1804.9 1392.1L1808.6 1406.4L1796.3 1398.4L1784.0 1406.4L1787.7 1392.1L1776.3 1382.9L1791.0 1382.1zM1815.6 1369.3L1820.9 1383.0L1835.5 1383.8L1824.1 1393.0L1827.9 1407.3L1815.6 1399.3L1803.2 1407.3L1807.0 1393.0L1795.6 1383.8L1810.3 1383.0zM1834.8 1370.2L1840.1 1383.9L1854.8 1384.7L1843.4 1393.9L1847.2 1408.2L1834.8 1400.2L1822.5 1408.2L1826.3 1393.9L1814.9 1384.7L1829.6 1383.9zM1854.1 1371.1L1859.4 1384.8L1874.1 1385.6L1862.7 1394.8L1866.5 1409.1L1854.1 1401.1L1841.8 1409.1L1845.6 1394.8L1834.2 1385.6L1848.8 1384.8zM1873.4 1372.0L1878.7 1385.7L1893.4 1386.5L1882.0 1395.7L1885.7 1410.0L1873.4 1402.0L1861.1 1410.0L1864.8 1395.7L1853.4 1386.5L1868.1 1385.7zM1892.7 1372.9L1898.0 1386.6L1912.6 1387.4L1901.2 1396.7L1905.0 1410.9L1892.7 1402.9L1880.3 1410.9L1884.1 1396.7L1872.7 1387.4L1887.4 1386.6zM1912.0 1373.8L1917.2 1387.5L1931.9 1388.3L1920.5 1397.6L1924.3 1411.8L1912.0 1403.8L1899.6 1411.8L1903.4 1397.6L1892.0 1388.3L1906.7 1387.5zM1931.2 1374.3L1936.5 1388.0L1951.2 1388.8L1939.8 1398.1L1943.6 1412.3L1931.2 1404.3L1918.9 1412.3L1922.7 1398.1L1911.3 1388.8L1925.9 1388.0zM1950.5 1374.8L1955.8 1388.5L1970.5 1389.3L1959.1 1398.6L1962.8 1412.8L1950.5 1404.8L1938.2 1412.8L1941.9 1398.6L1930.5 1389.3L1945.2 1388.5zM1969.8 1375.3L1975.1 1389.1L1989.7 1389.9L1978.3 1399.1L1982.1 1413.3L1969.8 1405.3L1957.4 1413.3L1961.2 1399.1L1949.8 1389.9L1964.5 1389.1zM1989.0 1375.9L1994.3 1389.6L2009.0 1390.4L1997.6 1399.7L2001.4 1413.9L1989.0 1405.9L1976.7 1413.9L1980.5 1399.7L1969.1 1390.4L1983.8 1389.6zM2008.3 1376.4L2013.6 1390.1L2028.3 1390.9L2016.9 1400.2L2020.7 1414.4L2008.3 1406.4L1996.0 1414.4L1999.8 1400.2L1988.4 1390.9L2003.0 1390.1zM2027.6 1376.9L2032.9 1390.6L2047.6 1391.4L2036.2 1400.7L2039.9 1414.9L2027.6 1406.9L2015.3 1414.9L2019.0 1400.7L2007.6 1391.4L2022.3 1390.6zM2046.9 1377.5L2052.2 1391.2L2066.8 1392.0L2055.4 1401.2L2059.2 1415.4L2046.9 1407.5L2034.5 1415.4L2038.3 1401.2L2026.9 1392.0L2041.6 1391.2zM2066.2 1378.0L2071.4 1391.7L2086.1 1392.5L2074.7 1401.8L2078.5 1416.0L2066.2 1408.0L2053.8 1416.0L2057.6 1401.8L2046.2 1392.5L2060.9 1391.7zM2085.4 1378.5L2090.7 1392.2L2105.4 1393.0L2094.0 1402.3L2097.8 1416.5L2085.4 1408.5L2073.1 1416.5L2076.9 1402.3L2065.5 1393.0L2080.1 1392.2zM2104.7 1379.0L2110.0 1392.8L2124.7 1393.5L2113.3 1402.8L2117.0 1417.0L2104.7 1409.0L2092.4 1417.0L2096.1 1402.8L2084.7 1393.5L2099.4 1392.8zM2124.0 1379.6L2129.3 1393.3L2143.9 1394.1L2132.5 1403.3L2136.3 1417.5L2124.0 1409.6L2111.6 1417.5L2115.4 1403.3L2104.0 1394.1L2118.7 1393.3zM2143.2 1380.1L2148.5 1393.8L2163.2 1394.6L2151.8 1403.9L2155.6 1418.1L2143.2 1410.1L2130.9 1418.1L2134.7 1403.9L2123.3 1394.6L2138.0 1393.8zM2162.5 1380.6L2167.8 1394.3L2182.5 1395.1L2171.1 1404.4L2174.9 1418.6L2162.5 1410.6L2150.2 1418.6L2154.0 1404.4L2142.6 1395.1L2157.2 1394.3zM2181.8 1381.1L2187.1 1394.9L2201.8 1395.6L2190.4 1404.9L2194.1 1419.1L2181.8 1411.1L2169.5 1419.1L2173.2 1404.9L2161.8 1395.6L2176.5 1394.9zM2201.1 1381.7L2206.4 1395.4L2221.0 1396.2L2209.6 1405.4L2213.4 1419.7L2201.1 1411.7L2188.7 1419.7L2192.5 1405.4L2181.1 1396.2L2195.8 1395.4zM2220.3 1382.2L2225.6 1395.9L2240.3 1396.7L2228.9 1406.0L2232.7 1420.2L2220.3 1412.2L2208.0 1420.2L2211.8 1406.0L2200.4 1396.7L2215.1 1395.9zM2239.6 1382.7L2244.9 1396.4L2259.6 1397.2L2248.2 1406.5L2252.0 1420.7L2239.6 1412.7L2227.3 1420.7L2231.1 1406.5L2219.7 1397.2L2234.3 1396.4zM2258.9 1383.2L2264.2 1397.0L2278.9 1397.8L2267.5 1407.0L2271.2 1421.2L2258.9 1413.2L2246.6 1421.2L2250.3 1407.0L2238.9 1397.8L2253.6 1397.0zM2278.2 1383.8L2283.5 1397.5L2298.1 1398.3L2286.7 1407.5L2290.5 1421.8L2278.2 1413.8L2265.8 1421.8L2269.6 1407.5L2258.2 1398.3L2272.9 1397.5zM2297.4 1384.3L2302.7 1398.0L2317.4 1398.8L2306.0 1408.1L2309.8 1422.3L2297.4 1414.3L2285.1 1422.3L2288.9 1408.1L2277.5 1398.8L2292.2 1398.0zM2316.7 1384.8L2322.0 1398.5L2336.7 1399.3L2325.3 1408.6L2329.1 1422.8L2316.7 1414.8L2304.4 1422.8L2308.2 1408.6L2296.8 1399.3L2311.4 1398.5zM2336.0 1385.3L2341.3 1399.1L2356.0 1399.9L2344.6 1409.1L2348.3 1423.3L2336.0 1415.3L2323.7 1423.3L2327.4 1409.1L2316.0 1399.9L2330.7 1399.1z" fill="#787878"/>
</g>
<path d="M1720 101.0H1840" stroke="#787878" stroke-width="11.7" stroke-linecap="round"/>
<path d="M1761.0 82.0L1799.0 120.0M1761.0 120.0L1799.0 82.0" fill="none" stroke="#787878" stroke-width="3.6"/>
<text transform="translate(1855.4,119.5) scale(0.937,1)" font-size="57">PU</text>
<path d="M1720 170.7H1840" stroke="#ff4040" stroke-width="11.7" stroke-linecap="round"/>
<path d="M1761.0 151.7L1799.0 189.7M1761.0 189.7L1799.0 151.7" fill="none" stroke="#ff4040" stroke-width="3.6"/>
<text transform="translate(1855.4,189.2) scale(0.937,1)" font-size="57">PU/EG10</text>
<path d="M1720 240.4H1840" stroke="#006ee6" stroke-width="11.7" stroke-linecap="round"/>
<text transform="translate(1855.4,258.9) scale(0.937,1)" font-size="57">PU/EG/FG10</text>
<path d="M1720 310.1H1840" stroke="#00aa66" stroke-width="11.7" stroke-linecap="round"/>
<path d="M1780.0 292.1V328.1" fill="none" stroke="#00aa66" stroke-width="3"/>
<text transform="translate(1855.4,328.6) scale(0.937,1)" font-size="57">PU/EG/VMT10</text>
<path d="M1720 379.8H1840" stroke="#c17ae2" stroke-width="11.7" stroke-linecap="round"/>
<path d="M1764.5 363.3h31v33h-31z" fill="#c17ae2"/>
<text transform="translate(1855.4,398.3) scale(0.937,1)" font-size="57">PU/EG/FG/VMT10</text>
<path d="M1720 449.5H1840" stroke="#db9900" stroke-width="11.7" stroke-linecap="round"/>
<path d="M1762.5 449.5a17.5 17.5 0 1 0 35.0 0a17.5 17.5 0 1 0 -35.0 0z" fill="#db9900"/>
<text transform="translate(1855.4,468.0) scale(0.937,1)" font-size="57">PU/EG20</text>
<path d="M1720 519.2H1840" stroke="#00cccc" stroke-width="11.7" stroke-linecap="round"/>
<path d="M1780.0 493.9L1801.3 531.9L1758.7 531.9z" fill="#00cccc"/>
<text transform="translate(1855.4,537.7) scale(0.937,1)" font-size="57">PU/EG/FG20</text>
<path d="M1720 588.9H1840" stroke="#8a4e4e" stroke-width="11.7" stroke-linecap="round"/>
<path d="M1780.0 614.2L1801.3 576.2L1758.7 576.2z" fill="#8a4e4e"/>
<text transform="translate(1855.4,607.4) scale(0.937,1)" font-size="57">PU/EG/VMT20</text>
<path d="M1720 658.6H1840" stroke="#919100" stroke-width="11.7" stroke-linecap="round"/>
<path d="M1780.0 636.1L1797.2 658.6L1780.0 681.1L1762.8 658.6z" fill="#919100"/>
<text transform="translate(1855.4,677.1) scale(0.937,1)" font-size="57">PU/EG/FG/VMT20</text>
<path d="M1720 728.3H1840" stroke="#ff6600" stroke-width="11.7" stroke-linecap="round"/>
<path d="M1760.2 728.3L1789.9 706.3L1789.9 750.3z" fill="#ff6600"/>
<text transform="translate(1855.4,746.8) scale(0.937,1)" font-size="57">PU/EG40</text>
<path d="M1720 798.0H1840" stroke="#4299d0" stroke-width="11.7" stroke-linecap="round"/>
<path d="M1799.8 798.0L1770.1 776.0L1770.1 820.0z" fill="#4299d0"/>
<text transform="translate(1855.4,816.5) scale(0.937,1)" font-size="57">PU/EG/FG40</text>
<path d="M1720 867.7H1840" stroke="#33b500" stroke-width="11.7" stroke-linecap="round"/>
<path d="M1780.0 847.2L1797.0 857.5L1797.0 878.0L1780.0 888.2L1763.0 878.0L1763.0 857.5z" fill="#33b500"/>
<text transform="translate(1855.4,886.2) scale(0.937,1)" font-size="57">PU/EG/VMT40</text>
<path d="M1720 937.4H1840" stroke="#787878" stroke-width="11.7" stroke-linecap="round"/>
<path d="M1780.0 916.4L1785.3 930.1L1800.0 930.9L1788.6 940.2L1792.3 954.4L1780.0 946.4L1767.7 954.4L1771.4 940.2L1760.0 930.9L1774.7 930.1z" fill="#787878"/>
<text transform="translate(1855.4,955.9) scale(0.937,1)" font-size="57">PU/EG/FG/VMT40</text>
</svg></body></html>
